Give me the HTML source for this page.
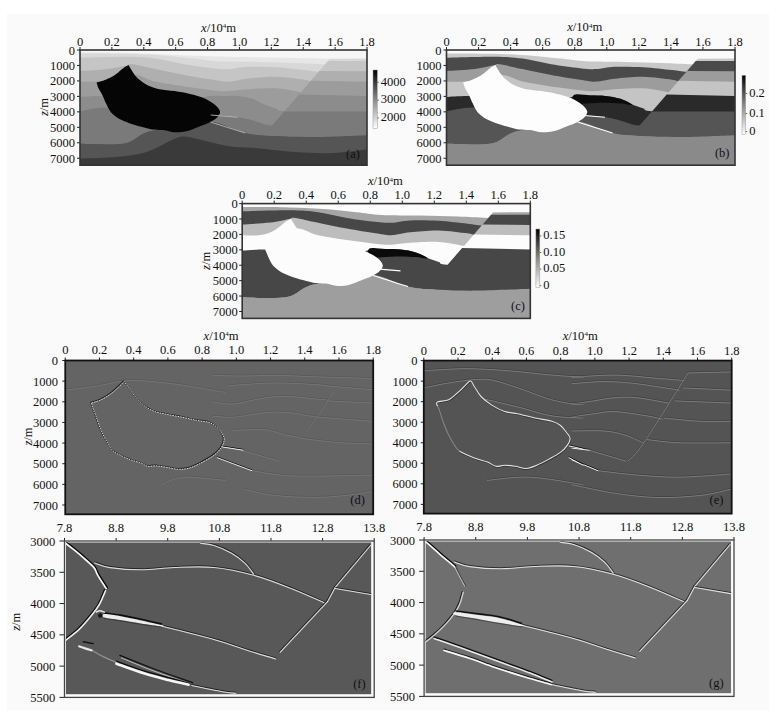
<!DOCTYPE html><html><head><meta charset="utf-8"><style>html,body{margin:0;padding:0;background:#ffffff;overflow:hidden}svg{display:block}</style></head><body><svg xmlns="http://www.w3.org/2000/svg" width="784" height="717" viewBox="0 0 784 717" font-family="Liberation Serif, serif" font-size="12" fill="#111">
<defs>
<linearGradient id="cbg" x1="0" y1="1" x2="0" y2="0"><stop offset="0" stop-color="#fff"/><stop offset="0.5" stop-color="#888"/><stop offset="1" stop-color="#000"/></linearGradient>
</defs>
<rect width="784" height="717" fill="#ffffff"/>
<rect x="7" y="14" width="762" height="696" fill="#fafafa"/>
<clipPath id="clipa"><rect x="80" y="50" width="287" height="115.19999999999999"/></clipPath>
<clipPath id="rca"><polygon points="339.2,48.0 372.0,48.0 372.0,145.0 272.1,145.0 272.1,125.6"/></clipPath>
<g clip-path="url(#clipa)">
<rect x="80" y="50" width="287" height="115.19999999999999" fill="#f6f6f6"/>
<path d="M75.0,52.6 C75.8,52.6 70.8,52.5 79.5,52.6 C88.2,52.7 113.0,52.7 127.3,53.0 C141.5,53.3 154.1,54.0 165.1,54.5 C176.0,55.0 184.0,55.4 192.9,55.8 C201.9,56.1 207.2,56.3 218.8,56.6 C230.4,56.9 244.1,57.2 262.5,57.5 C280.9,57.8 311.6,58.2 329.2,58.5 C346.8,58.8 360.9,58.9 368.0,59.0 C375.1,59.1 371.3,59.0 372.0,59.0 L372.0,170.2 L75.0,170.2 Z" fill="#e6e6e6"/>
<path d="M75.0,53.4 C75.8,53.4 70.8,53.3 79.5,53.4 C88.2,53.5 112.8,53.4 127.1,53.8 C141.3,54.2 154.0,54.9 165.2,55.7 C176.3,56.5 184.8,57.7 193.7,58.6 C202.6,59.5 208.2,60.8 218.8,61.3 C229.3,61.8 244.2,61.6 256.9,61.9 C269.6,62.2 283.5,62.6 294.9,63.0 C306.3,63.4 313.1,64.0 325.3,64.3 C337.5,64.6 360.2,64.9 368.0,65.0 C375.8,65.1 371.3,65.0 372.0,65.0 L372.0,170.2 L75.0,170.2 Z" fill="#d8d8d8"/>
<path d="M75.0,57.7 C75.8,57.7 70.8,57.9 79.5,57.7 C88.2,57.5 114.4,56.6 127.1,56.7 C139.7,56.9 146.1,57.3 155.6,58.6 C165.1,59.9 174.6,62.7 184.2,64.3 C193.7,65.9 205.3,67.4 212.7,68.2 C220.1,69.0 223.0,69.3 228.7,69.1 C234.5,68.9 239.5,67.1 247.3,66.8 C255.2,66.5 266.4,66.7 275.9,67.2 C285.4,67.8 296.8,69.3 304.4,70.1 C312.0,70.9 310.9,71.3 321.5,72.0 C332.1,72.7 359.6,73.7 368.0,74.0 C376.4,74.3 371.3,74.0 372.0,74.0 L372.0,170.2 L75.0,170.2 Z" fill="#c5c5c5"/>
<path d="M75.0,70.9 C75.8,70.9 74.0,71.2 79.5,70.9 C85.0,70.6 100.1,69.8 108.1,68.9 C116.0,68.0 122.9,66.1 127.1,65.3 C131.2,64.5 128.1,63.7 132.8,64.3 C137.6,64.9 147.0,67.3 155.6,69.1 C164.2,70.9 174.6,73.1 184.2,74.9 C193.7,76.7 205.3,78.6 212.7,79.7 C220.1,80.8 223.0,81.8 228.7,81.6 C234.5,81.4 239.5,79.5 247.3,78.7 C255.2,77.9 266.4,76.6 275.9,76.8 C285.4,77.0 297.8,78.9 304.4,79.7 C311.1,80.5 305.3,80.9 315.9,81.6 C326.5,82.3 358.6,83.6 368.0,84.0 C377.4,84.4 371.3,84.0 372.0,84.0 L372.0,170.2 L75.0,170.2 Z" fill="#afafaf"/>
<path d="M75.0,81.6 C75.8,81.6 75.9,81.6 79.5,81.6 C83.1,81.6 89.3,82.2 96.6,81.6 C103.9,81.0 116.6,79.1 123.3,78.0 C129.9,76.9 131.2,74.3 136.6,74.9 C142.0,75.5 147.7,79.7 155.6,81.6 C163.5,83.5 174.6,85.0 184.2,86.4 C193.7,87.8 205.3,89.4 212.7,90.2 C220.1,91.0 223.0,91.3 228.7,91.1 C234.5,90.9 239.5,89.7 247.3,89.2 C255.2,88.7 268.0,88.0 275.9,88.3 C283.8,88.6 289.5,90.3 294.9,91.1 C300.3,91.9 296.0,91.8 308.2,93.0 C320.4,94.2 357.4,97.2 368.0,98.0 C378.6,98.8 371.3,98.0 372.0,98.0 L372.0,170.2 L75.0,170.2 Z" fill="#9c9c9c"/>
<path d="M75.0,96.9 C75.8,96.9 74.9,97.1 79.5,96.9 C84.1,96.7 90.1,95.9 102.4,95.9 C114.7,95.9 137.7,96.6 153.1,97.0 C168.5,97.4 185.6,98.7 194.9,98.5 C204.2,98.3 204.0,96.4 208.9,96.0 C213.9,95.6 219.9,95.9 224.7,95.9 C229.6,95.9 233.1,95.4 237.8,95.9 C242.5,96.4 248.6,97.4 253.0,98.8 C257.4,100.2 260.6,102.9 264.4,104.5 C268.2,106.1 272.1,107.2 275.9,108.4 C279.7,109.6 272.0,110.0 287.3,111.6 C302.7,113.2 353.9,116.9 368.0,118.0 C382.1,119.1 371.3,118.0 372.0,118.0 L372.0,170.2 L75.0,170.2 Z" fill="#8c8c8c"/>
<path d="M75.0,111.2 C75.8,111.2 74.3,111.8 79.5,111.2 C84.7,110.6 93.9,107.6 106.2,107.4 C118.4,107.2 134.3,108.7 153.1,110.0 C171.9,111.3 203.1,113.5 218.8,115.0 C234.5,116.5 238.4,117.1 247.3,118.9 C256.2,120.7 261.3,124.4 272.1,125.6 C282.9,126.8 296.3,125.9 312.3,126.0 C328.3,126.1 358.0,126.0 368.0,126.0 C377.9,126.0 371.3,126.0 372.0,126.0 L372.0,170.2 L75.0,170.2 Z" fill="#7a7a7a"/>
<path d="M75.0,143.7 C75.8,143.7 71.5,143.7 79.5,143.7 C87.5,143.7 112.8,145.3 123.3,143.7 C133.7,142.1 137.2,136.4 142.3,134.2 C147.3,132.0 146.9,131.8 153.7,130.4 C160.5,129.0 173.4,127.5 183.0,126.0 C192.5,124.5 200.4,120.3 210.8,121.5 C221.3,122.7 234.8,130.8 245.6,133.2 C256.5,135.6 264.5,135.5 275.9,136.1 C287.3,136.7 298.6,137.2 314.0,137.0 C329.3,136.8 358.3,135.4 368.0,135.1 C377.7,134.8 371.3,135.1 372.0,135.1 L372.0,170.2 L75.0,170.2 Z" fill="#555555"/>
<path d="M75.0,158.7 C75.8,158.7 72.3,159.0 79.5,158.7 C86.7,158.4 106.9,157.9 118.1,156.8 C129.3,155.7 137.1,155.0 146.7,152.0 C156.2,149.0 168.6,141.2 175.2,138.6 C181.9,136.0 181.8,136.4 186.5,136.7 C191.3,137.0 196.6,138.9 203.8,140.5 C210.9,142.1 220.3,145.0 229.2,146.3 C238.2,147.6 246.3,147.2 257.4,148.2 C268.4,149.1 282.7,151.2 295.4,152.0 C308.1,152.8 321.4,153.5 333.5,153.0 C345.6,152.5 361.6,149.8 368.0,149.1 C374.4,148.4 371.3,149.1 372.0,149.1 L372.0,170.2 L75.0,170.2 Z" fill="#3a3a3a"/>
<polygon points="340.1,47.0 372.0,47.0 372.0,59.4 329.2,59.6" fill="#f6f6f6"/>
<polygon points="329.9,58.8 372.0,58.6 372.0,61.9 327.2,61.9" fill="#d8d8d8"/>
<polygon points="327.9,61.1 372.0,61.1 372.0,72.2 318.7,71.8" fill="#c5c5c5"/>
<polygon points="319.3,71.0 372.0,71.4 372.0,82.5 310.2,81.6" fill="#afafaf"/>
<polygon points="310.9,80.8 372.0,81.7 372.0,96.8 298.4,95.2" fill="#9c9c9c"/>
<polygon points="299.1,94.4 372.0,96.0 372.0,112.4 283.5,112.4" fill="#8c8c8c"/>
<polygon points="284.2,111.6 372.0,111.6 372.0,145.0 272.1,145.0 272.1,125.6" fill="#7a7a7a"/>
<path d="M75.0,143.7 C75.8,143.7 71.5,143.7 79.5,143.7 C87.5,143.7 112.8,145.3 123.3,143.7 C133.7,142.1 137.2,136.4 142.3,134.2 C147.3,132.0 146.9,131.8 153.7,130.4 C160.5,129.0 173.4,127.5 183.0,126.0 C192.5,124.5 200.4,120.3 210.8,121.5 C221.3,122.7 234.8,130.8 245.6,133.2 C256.5,135.6 264.5,135.5 275.9,136.1 C287.3,136.7 298.6,137.2 314.0,137.0 C329.3,136.8 358.3,135.4 368.0,135.1 C377.7,134.8 371.3,135.1 372.0,135.1 L372.0,170.2 L75.0,170.2 Z" fill="#555555"/>
<path d="M75.0,158.7 C75.8,158.7 72.3,159.0 79.5,158.7 C86.7,158.4 106.9,157.9 118.1,156.8 C129.3,155.7 137.1,155.0 146.7,152.0 C156.2,149.0 168.6,141.2 175.2,138.6 C181.9,136.0 181.8,136.4 186.5,136.7 C191.3,137.0 196.6,138.9 203.8,140.5 C210.9,142.1 220.3,145.0 229.2,146.3 C238.2,147.6 246.3,147.2 257.4,148.2 C268.4,149.1 282.7,151.2 295.4,152.0 C308.1,152.8 321.4,153.5 333.5,153.0 C345.6,152.5 361.6,149.8 368.0,149.1 C374.4,148.4 371.3,149.1 372.0,149.1 L372.0,170.2 L75.0,170.2 Z" fill="#3a3a3a"/>
<path d="M96.6,82.5 C96.6,82.5 101.7,81.2 104.2,80.2 C106.8,79.3 109.6,78.0 111.9,76.8 C114.1,75.6 115.7,74.4 117.6,73.0 C119.5,71.5 121.4,69.5 123.3,68.2 C125.1,66.9 128.6,65.1 128.6,65.1 C128.6,65.1 129.9,67.5 130.9,69.1 C131.9,70.8 133.1,73.0 134.7,74.9 C136.3,76.8 138.2,78.9 140.4,80.6 C142.6,82.4 144.8,84.0 148.0,85.4 C151.2,86.8 155.0,88.3 159.4,89.2 C163.9,90.2 169.6,90.3 174.7,91.1 C179.7,91.9 185.1,92.9 189.9,94.0 C194.7,95.1 199.1,96.1 203.2,97.8 C207.3,99.6 211.8,102.3 214.6,104.5 C217.4,106.8 219.5,109.2 220.0,111.2 C220.4,113.3 219.0,115.2 217.5,117.0 C216.0,118.7 213.8,120.2 210.8,121.7 C207.8,123.3 203.5,124.9 199.4,126.5 C195.3,128.1 190.2,130.4 186.1,131.3 C182.0,132.3 178.5,132.5 174.7,132.3 C170.9,132.0 167.1,130.5 163.2,130.0 C159.4,129.5 155.6,130.0 151.8,129.4 C148.0,128.8 143.9,127.5 140.4,126.5 C136.9,125.6 134.4,124.9 130.9,123.7 C127.4,122.4 122.8,120.8 119.5,118.9 C116.1,117.0 113.1,114.7 110.9,112.2 C108.7,109.6 107.6,106.4 106.1,103.6 C104.7,100.7 103.6,97.5 102.3,95.0 C101.1,92.4 99.5,90.3 98.5,88.3 C97.6,86.2 96.6,82.5 96.6,82.5 Z" fill="#050505"/>
<path d="M210.8,115.0 L237.7,117.3" fill="none" stroke="#b8b8b8" stroke-width="0.9"/>
<path d="M210.5,122.0 C213.4,122.9 222.0,125.7 227.7,127.5 C233.5,129.3 242.2,132.1 245.1,133.0" fill="none" stroke="#b8b8b8" stroke-width="0.9"/>
</g>
<clipPath id="clipb"><rect x="446.5" y="50" width="288.5" height="115.19999999999999"/></clipPath>
<clipPath id="rcb"><polygon points="707.1,48.0 740.0,48.0 740.0,145.0 639.6,145.0 639.6,125.6"/></clipPath>
<g clip-path="url(#clipb)">
<rect x="446.5" y="50" width="288.5" height="115.19999999999999" fill="#fafafa"/>
<path d="M441.5,53.4 C442.2,53.4 437.3,53.3 446.0,53.4 C454.7,53.5 479.4,53.4 493.8,53.8 C508.2,54.2 520.9,54.9 532.1,55.7 C543.3,56.5 551.8,57.7 560.8,58.6 C569.8,59.5 575.4,60.8 586.0,61.3 C596.6,61.8 611.5,61.6 624.3,61.9 C637.0,62.2 651.0,62.6 662.5,63.0 C674.0,63.4 680.9,64.0 693.1,64.3 C705.4,64.6 728.2,64.9 736.0,65.0 C743.8,65.1 739.3,65.0 740.0,65.0 L740.0,170.2 L441.5,170.2 Z" fill="#c8c8c8"/>
<path d="M441.5,57.7 C442.2,57.7 437.3,57.9 446.0,57.7 C454.7,57.5 481.1,56.6 493.8,56.7 C506.6,56.9 512.9,57.3 522.5,58.6 C532.1,59.9 541.6,62.7 551.2,64.3 C560.8,65.9 572.4,67.4 579.9,68.2 C587.4,69.0 590.2,69.3 596.0,69.1 C601.8,68.9 606.8,67.1 614.7,66.8 C622.6,66.5 633.8,66.7 643.4,67.2 C653.0,67.8 664.5,69.3 672.1,70.1 C679.8,70.9 678.6,71.3 689.3,72.0 C699.9,72.7 727.5,73.7 736.0,74.0 C744.5,74.3 739.3,74.0 740.0,74.0 L740.0,170.2 L441.5,170.2 Z" fill="#4a4a4a"/>
<path d="M441.5,70.9 C442.2,70.9 440.5,71.2 446.0,70.9 C451.5,70.6 466.7,69.8 474.7,68.9 C482.7,68.0 489.6,66.1 493.8,65.3 C498.0,64.5 494.8,63.7 499.6,64.3 C504.4,64.9 513.9,67.3 522.5,69.1 C531.1,70.9 541.6,73.1 551.2,74.9 C560.8,76.7 572.4,78.6 579.9,79.7 C587.4,80.8 590.2,81.8 596.0,81.6 C601.8,81.4 606.8,79.5 614.7,78.7 C622.6,77.9 633.8,76.6 643.4,76.8 C653.0,77.0 665.4,78.9 672.1,79.7 C678.8,80.5 673.0,80.9 683.6,81.6 C694.2,82.3 726.6,83.6 736.0,84.0 C745.4,84.4 739.3,84.0 740.0,84.0 L740.0,170.2 L441.5,170.2 Z" fill="#9c9c9c"/>
<path d="M441.5,81.6 C442.2,81.6 442.4,81.6 446.0,81.6 C449.6,81.6 455.9,82.2 463.2,81.6 C470.5,81.0 483.3,79.1 490.0,78.0 C496.7,76.9 498.0,74.3 503.4,74.9 C508.8,75.5 514.5,79.7 522.5,81.6 C530.5,83.5 541.6,85.0 551.2,86.4 C560.8,87.8 572.4,89.4 579.9,90.2 C587.4,91.0 590.2,91.3 596.0,91.1 C601.8,90.9 606.8,89.7 614.7,89.2 C622.6,88.7 635.4,88.0 643.4,88.3 C651.4,88.6 657.1,90.3 662.5,91.1 C667.9,91.9 663.6,91.8 675.9,93.0 C688.1,94.2 725.3,97.2 736.0,98.0 C746.7,98.8 739.3,98.0 740.0,98.0 L740.0,170.2 L441.5,170.2 Z" fill="#c4c4c4"/>
<path d="M441.5,96.9 C442.2,96.9 441.4,97.1 446.0,96.9 C450.6,96.7 456.7,95.9 469.0,95.9 C481.3,95.9 504.5,96.6 520.0,97.0 C535.5,97.4 552.6,98.7 562.0,98.5 C571.4,98.3 571.1,96.4 576.1,96.0 C581.1,95.6 587.2,95.9 592.0,95.9 C596.8,95.9 600.4,95.4 605.1,95.9 C609.8,96.4 615.9,97.4 620.4,98.8 C624.9,100.2 628.1,102.9 631.9,104.5 C635.7,106.1 639.6,107.2 643.4,108.4 C647.2,109.6 639.5,110.0 654.9,111.6 C670.3,113.2 721.8,116.9 736.0,118.0 C750.2,119.1 739.3,118.0 740.0,118.0 L740.0,170.2 L441.5,170.2 Z" fill="#2a2a2a"/>
<path d="M441.5,111.2 C442.2,111.2 440.8,111.8 446.0,111.2 C451.2,110.6 460.5,107.6 472.8,107.4 C485.1,107.2 501.1,108.7 520.0,110.0 C538.9,111.3 570.2,113.5 586.0,115.0 C601.8,116.5 605.8,117.1 614.7,118.9 C623.6,120.7 628.7,124.4 639.6,125.6 C650.5,126.8 663.9,125.9 680.0,126.0 C696.1,126.1 726.0,126.0 736.0,126.0 C746.0,126.0 739.3,126.0 740.0,126.0 L740.0,170.2 L441.5,170.2 Z" fill="#555555"/>
<path d="M441.5,143.7 C442.2,143.7 437.9,143.7 446.0,143.7 C454.1,143.7 479.5,145.3 490.0,143.7 C500.5,142.1 504.0,136.4 509.1,134.2 C514.2,132.0 513.8,131.8 520.6,130.4 C527.4,129.0 540.4,127.5 550.0,126.0 C559.6,124.5 567.5,120.3 578.0,121.5 C588.5,122.7 602.1,130.8 613.0,133.2 C623.9,135.6 631.9,135.5 643.4,136.1 C654.9,136.7 666.3,137.2 681.7,137.0 C697.1,136.8 726.3,135.4 736.0,135.1 C745.7,134.8 739.3,135.1 740.0,135.1 L740.0,170.2 L441.5,170.2 Z" fill="#8a8a8a"/>
<path d="M574.0,95.0 C576.7,93.5 584.8,95.1 590.0,95.3 C595.2,95.5 600.0,95.3 605.1,95.9 C610.2,96.5 615.8,97.3 620.4,98.8 C625.0,100.3 632.6,104.0 632.5,104.8 C632.4,105.6 624.6,103.7 620.0,103.4 C615.4,103.1 610.7,102.8 605.0,102.8 C599.3,102.8 591.2,103.4 586.0,103.6 C580.8,103.8 576.0,105.4 574.0,104.0 C572.0,102.6 571.3,96.5 574.0,95.0 Z" fill="#0c0c0c"/>
<polygon points="708.0,47.0 740.0,47.0 740.0,59.4 697.0,59.6" fill="#fafafa"/>
<polygon points="697.7,58.8 740.0,58.6 740.0,61.9 695.0,61.9" fill="#c8c8c8"/>
<polygon points="695.7,61.1 740.0,61.1 740.0,72.2 686.4,71.8" fill="#4a4a4a"/>
<polygon points="687.1,71.0 740.0,71.4 740.0,82.5 677.9,81.6" fill="#9c9c9c"/>
<polygon points="678.6,80.8 740.0,81.7 740.0,96.8 666.1,95.2" fill="#c4c4c4"/>
<polygon points="666.7,94.4 740.0,96.0 740.0,112.4 651.1,112.4" fill="#2a2a2a"/>
<polygon points="651.8,111.6 740.0,111.6 740.0,145.0 639.6,145.0 639.6,125.6" fill="#555555"/>
<path d="M441.5,143.7 C442.2,143.7 437.9,143.7 446.0,143.7 C454.1,143.7 479.5,145.3 490.0,143.7 C500.5,142.1 504.0,136.4 509.1,134.2 C514.2,132.0 513.8,131.8 520.6,130.4 C527.4,129.0 540.4,127.5 550.0,126.0 C559.6,124.5 567.5,120.3 578.0,121.5 C588.5,122.7 602.1,130.8 613.0,133.2 C623.9,135.6 631.9,135.5 643.4,136.1 C654.9,136.7 666.3,137.2 681.7,137.0 C697.1,136.8 726.3,135.4 736.0,135.1 C745.7,134.8 739.3,135.1 740.0,135.1 L740.0,170.2 L441.5,170.2 Z" fill="#8a8a8a"/>
<path d="M463.2,82.5 C463.2,82.5 468.3,81.2 470.9,80.2 C473.4,79.3 476.3,78.0 478.5,76.8 C480.8,75.6 482.4,74.4 484.3,73.0 C486.2,71.5 488.2,69.5 490.0,68.2 C491.9,66.9 495.4,65.1 495.4,65.1 C495.4,65.1 496.6,67.5 497.7,69.1 C498.7,70.8 499.9,73.0 501.5,74.9 C503.1,76.8 505.0,78.9 507.2,80.6 C509.5,82.4 511.7,84.0 514.9,85.4 C518.1,86.8 521.9,88.3 526.4,89.2 C530.8,90.2 536.6,90.3 541.7,91.1 C546.8,91.9 552.2,92.9 557.0,94.0 C561.8,95.1 566.2,96.1 570.4,97.8 C574.5,99.6 579.0,102.3 581.8,104.5 C584.6,106.8 586.7,109.2 587.2,111.2 C587.7,113.3 586.2,115.2 584.7,117.0 C583.2,118.7 581.0,120.2 578.0,121.7 C575.0,123.3 570.7,124.9 566.5,126.5 C562.4,128.1 557.3,130.4 553.1,131.3 C549.0,132.3 545.5,132.5 541.7,132.3 C537.8,132.0 534.0,130.5 530.2,130.0 C526.4,129.5 522.5,130.0 518.7,129.4 C514.9,128.8 510.7,127.5 507.2,126.5 C503.7,125.6 501.2,124.9 497.7,123.7 C494.2,122.4 489.5,120.8 486.2,118.9 C482.8,117.0 479.8,114.7 477.6,112.2 C475.3,109.6 474.2,106.4 472.8,103.6 C471.4,100.7 470.2,97.5 469.0,95.0 C467.7,92.4 466.1,90.3 465.1,88.3 C464.2,86.2 463.2,82.5 463.2,82.5 Z" fill="#fdfdfd"/>
<path d="M578.0,115.0 L605.0,117.3" fill="none" stroke="#ffffff" stroke-width="1.1"/>
<path d="M577.7,122.0 C580.6,122.9 589.2,125.7 595.0,127.5 C600.8,129.3 609.6,132.1 612.5,133.0" fill="none" stroke="#ffffff" stroke-width="1.1"/>
</g>
<clipPath id="clipc"><rect x="242.2" y="203.6" width="288.09999999999997" height="114.79999999999998"/></clipPath>
<clipPath id="rcc"><polygon points="502.4,201.6 535.3,201.6 535.3,298.6 435.0,298.6 435.0,279.2"/></clipPath>
<g clip-path="url(#clipc)">
<rect x="242.2" y="203.6" width="288.09999999999997" height="114.79999999999998" fill="#fcfcfc"/>
<path d="M237.2,207.0 C238.0,207.0 233.0,206.9 241.7,207.0 C250.4,207.1 275.1,207.0 289.4,207.4 C303.8,207.8 316.5,208.5 327.7,209.3 C338.8,210.1 347.4,211.3 356.3,212.2 C365.3,213.1 370.9,214.3 381.5,214.9 C392.1,215.4 407.0,215.2 419.8,215.5 C432.5,215.8 446.4,216.2 457.9,216.6 C469.4,217.0 476.2,217.6 488.5,217.9 C500.7,218.2 523.5,218.5 531.3,218.6 C539.1,218.7 534.6,218.6 535.3,218.6 L535.3,323.4 L237.2,323.4 Z" fill="#a5a5a5"/>
<path d="M237.2,211.3 C238.0,211.3 233.0,211.5 241.7,211.3 C250.4,211.1 276.7,210.2 289.4,210.3 C302.2,210.5 308.5,210.9 318.1,212.2 C327.6,213.5 337.2,216.3 346.8,217.9 C356.3,219.5 368.0,221.0 375.4,221.8 C382.9,222.6 385.7,222.9 391.5,222.7 C397.3,222.5 402.3,220.7 410.2,220.4 C418.1,220.1 429.3,220.2 438.8,220.8 C448.4,221.4 459.8,222.9 467.5,223.7 C475.1,224.5 474.0,224.9 484.7,225.6 C495.3,226.2 522.9,227.3 531.3,227.6 C539.7,227.9 534.6,227.6 535.3,227.6 L535.3,323.4 L237.2,323.4 Z" fill="#474747"/>
<path d="M237.2,224.5 C238.0,224.5 236.2,224.8 241.7,224.5 C247.2,224.2 262.4,223.4 270.4,222.5 C278.3,221.6 285.3,219.7 289.4,218.9 C293.6,218.1 290.4,217.3 295.2,217.9 C300.0,218.5 309.5,220.9 318.1,222.7 C326.7,224.5 337.2,226.7 346.8,228.5 C356.3,230.3 368.0,232.2 375.4,233.3 C382.9,234.4 385.7,235.4 391.5,235.2 C397.3,235.0 402.3,233.1 410.2,232.3 C418.1,231.5 429.3,230.2 438.8,230.4 C448.4,230.6 460.8,232.5 467.5,233.3 C474.2,234.1 468.3,234.5 479.0,235.2 C489.6,235.9 521.9,237.2 531.3,237.6 C540.7,238.0 534.6,237.6 535.3,237.6 L535.3,323.4 L237.2,323.4 Z" fill="#bdbdbd"/>
<path d="M237.2,235.2 C238.0,235.2 238.1,235.2 241.7,235.2 C245.3,235.2 251.6,235.8 258.9,235.2 C266.2,234.6 278.9,232.7 285.6,231.6 C292.3,230.5 293.6,227.9 299.0,228.5 C304.4,229.1 310.1,233.3 318.1,235.2 C326.1,237.1 337.2,238.6 346.8,240.0 C356.3,241.4 368.0,243.0 375.4,243.8 C382.9,244.6 385.7,244.9 391.5,244.7 C397.3,244.5 402.3,243.3 410.2,242.8 C418.1,242.3 430.9,241.6 438.8,241.9 C446.8,242.2 452.5,243.9 457.9,244.7 C463.3,245.5 459.0,245.4 471.3,246.6 C483.5,247.8 520.6,250.8 531.3,251.6 C542.0,252.4 534.6,251.6 535.3,251.6 L535.3,323.4 L237.2,323.4 Z" fill="#fcfcfc"/>
<path d="M237.2,250.5 C238.0,250.5 237.1,250.7 241.7,250.5 C246.3,250.3 252.4,249.5 264.7,249.5 C277.0,249.5 300.1,250.2 315.6,250.6 C331.1,251.0 348.2,252.3 357.5,252.1 C366.9,251.9 366.6,250.0 371.6,249.6 C376.6,249.2 382.7,249.5 387.5,249.5 C392.3,249.5 395.9,249.0 400.6,249.5 C405.3,250.0 411.4,251.0 415.9,252.4 C420.3,253.8 423.5,256.5 427.3,258.1 C431.2,259.7 435.0,260.8 438.8,262.0 C442.7,263.2 434.9,263.6 450.3,265.2 C465.7,266.8 517.1,270.5 531.3,271.6 C545.5,272.7 534.6,271.6 535.3,271.6 L535.3,323.4 L237.2,323.4 Z" fill="#474747"/>
<path d="M237.2,264.8 C238.0,264.8 236.5,265.4 241.7,264.8 C246.9,264.2 256.1,261.2 268.5,261.0 C280.8,260.8 296.8,262.3 315.6,263.6 C334.4,264.9 365.7,267.1 381.5,268.6 C397.3,270.1 401.2,270.7 410.2,272.5 C419.1,274.3 424.2,278.0 435.0,279.2 C445.9,280.4 459.3,279.5 475.4,279.6 C491.4,279.7 521.3,279.6 531.3,279.6 C541.3,279.6 534.6,279.6 535.3,279.6 L535.3,323.4 L237.2,323.4 Z" fill="#474747"/>
<path d="M237.2,297.3 C238.0,297.3 233.6,297.3 241.7,297.3 C249.8,297.3 275.1,298.9 285.6,297.3 C296.1,295.7 299.6,290.0 304.7,287.8 C309.8,285.6 309.4,285.4 316.2,284.0 C323.0,282.6 336.0,281.1 345.6,279.6 C355.1,278.1 363.0,273.9 373.5,275.1 C384.0,276.3 397.6,284.4 408.5,286.8 C419.4,289.2 427.4,289.1 438.8,289.7 C450.3,290.3 461.7,290.8 477.1,290.6 C492.5,290.4 521.6,289.0 531.3,288.7 C541.0,288.4 534.6,288.7 535.3,288.7 L535.3,323.4 L237.2,323.4 Z" fill="#9e9e9e"/>
<path d="M369.5,248.6 C372.2,247.1 380.3,248.7 385.5,248.9 C390.7,249.0 395.5,248.9 400.6,249.5 C405.6,250.1 411.3,250.9 415.9,252.4 C420.4,253.9 428.0,257.6 427.9,258.4 C427.9,259.2 420.0,257.3 415.5,257.0 C410.9,256.7 406.1,256.4 400.5,256.4 C394.8,256.4 386.7,257.0 381.5,257.2 C376.3,257.4 371.5,259.0 369.5,257.6 C367.5,256.2 366.9,250.1 369.5,248.6 Z" fill="#0a0a0a"/>
<polygon points="503.3,200.6 535.3,200.6 535.3,213.0 492.3,213.2" fill="#fcfcfc"/>
<polygon points="493.0,212.4 535.3,212.2 535.3,215.5 490.4,215.5" fill="#a5a5a5"/>
<polygon points="491.0,214.7 535.3,214.7 535.3,225.8 481.8,225.4" fill="#474747"/>
<polygon points="482.5,224.6 535.3,225.0 535.3,236.1 473.3,235.2" fill="#bdbdbd"/>
<polygon points="474.0,234.4 535.3,235.3 535.3,250.4 461.5,248.8" fill="#fcfcfc"/>
<polygon points="462.1,248.0 535.3,249.6 535.3,266.0 446.5,266.0" fill="#474747"/>
<polygon points="447.2,265.2 535.3,265.2 535.3,298.6 435.0,298.6 435.0,279.2" fill="#474747"/>
<path d="M237.2,297.3 C238.0,297.3 233.6,297.3 241.7,297.3 C249.8,297.3 275.1,298.9 285.6,297.3 C296.1,295.7 299.6,290.0 304.7,287.8 C309.8,285.6 309.4,285.4 316.2,284.0 C323.0,282.6 336.0,281.1 345.6,279.6 C355.1,278.1 363.0,273.9 373.5,275.1 C384.0,276.3 397.6,284.4 408.5,286.8 C419.4,289.2 427.4,289.1 438.8,289.7 C450.3,290.3 461.7,290.8 477.1,290.6 C492.5,290.4 521.6,289.0 531.3,288.7 C541.0,288.4 534.6,288.7 535.3,288.7 L535.3,323.4 L237.2,323.4 Z" fill="#9e9e9e"/>
<line x1="446.4" y1="266.1" x2="435.0" y2="279.2" stroke="#474747" stroke-width="1.5"/>
<path d="M258.9,236.1 C258.9,236.1 264.0,234.8 266.5,233.8 C269.1,232.9 272.0,231.6 274.2,230.4 C276.4,229.2 278.0,228.0 279.9,226.6 C281.8,225.1 283.8,223.1 285.6,221.8 C287.5,220.5 291.0,218.7 291.0,218.7 C291.0,218.7 292.3,221.1 293.3,222.7 C294.3,224.4 295.5,226.6 297.1,228.5 C298.7,230.4 300.6,232.5 302.8,234.2 C305.1,236.0 307.3,237.6 310.5,239.0 C313.7,240.4 317.5,241.9 321.9,242.8 C326.4,243.8 332.1,243.9 337.2,244.7 C342.3,245.5 347.7,246.5 352.5,247.6 C357.3,248.7 361.8,249.7 365.9,251.4 C370.0,253.2 374.6,255.9 377.4,258.1 C380.2,260.4 382.2,262.8 382.7,264.8 C383.2,266.9 381.7,268.8 380.2,270.6 C378.7,272.3 376.6,273.8 373.5,275.3 C370.5,276.9 366.2,278.5 362.1,280.1 C357.9,281.7 352.8,284.0 348.7,284.9 C344.6,285.9 341.1,286.1 337.2,285.9 C333.4,285.6 329.6,284.1 325.8,283.6 C321.9,283.1 318.1,283.6 314.3,283.0 C310.5,282.4 306.3,281.1 302.8,280.1 C299.3,279.2 296.8,278.5 293.3,277.3 C289.8,276.0 285.2,274.4 281.8,272.5 C278.5,270.6 275.5,268.3 273.2,265.8 C271.0,263.2 269.9,260.0 268.4,257.2 C267.0,254.3 265.9,251.1 264.6,248.6 C263.4,246.0 261.8,243.9 260.8,241.9 C259.9,239.8 258.9,236.1 258.9,236.1 Z" fill="#fcfcfc"/>
<path d="M373.5,268.6 L400.5,270.9" fill="none" stroke="#ffffff" stroke-width="1.1"/>
<path d="M373.2,275.6 C376.1,276.5 384.7,279.3 390.5,281.1 C396.3,282.9 405.1,285.7 408.0,286.6" fill="none" stroke="#ffffff" stroke-width="1.1"/>
</g>
<clipPath id="clipd"><rect x="65.25" y="360.5" width="307.95" height="153.79999999999995"/></clipPath>
<g clip-path="url(#clipd)">
<rect x="65.25" y="360.5" width="307.95" height="153.79999999999995" fill="#646464"/>
<path d="M213.0,374.6 C218.1,374.7 232.7,375.2 243.6,375.2 C254.5,375.2 266.4,374.5 278.3,374.6 C290.2,374.7 299.3,375.5 315.0,376.0 C330.8,376.5 363.3,377.4 373.0,377.7" fill="none" stroke="#000" stroke-width="0.8" stroke-opacity="0.16" stroke-linecap="round"/><path d="M213.0,375.3 C218.1,375.4 232.7,375.9 243.6,375.9 C254.5,375.9 266.4,375.2 278.3,375.3 C290.2,375.4 299.3,376.2 315.0,376.7 C330.8,377.2 363.3,378.1 373.0,378.4" fill="none" stroke="#fff" stroke-width="0.8" stroke-opacity="0.16" stroke-linecap="round"/>
<path d="M229.3,384.8 C236.8,384.4 259.9,382.3 274.2,382.2 C288.5,382.0 304.8,383.2 315.0,383.8 C325.2,384.4 325.8,385.0 335.4,385.8 C345.1,386.7 366.7,388.4 373.0,388.9" fill="none" stroke="#000" stroke-width="0.8" stroke-opacity="0.16" stroke-linecap="round"/><path d="M229.3,385.5 C236.8,385.1 259.9,383.0 274.2,382.9 C288.5,382.7 304.8,383.9 315.0,384.5 C325.2,385.1 325.8,385.7 335.4,386.5 C345.1,387.4 366.7,389.1 373.0,389.6" fill="none" stroke="#fff" stroke-width="0.8" stroke-opacity="0.16" stroke-linecap="round"/>
<path d="M213.0,401.1 C216.4,401.5 226.6,403.5 233.4,403.2 C240.2,402.8 247.0,400.3 253.8,399.1 C260.6,397.9 267.4,396.5 274.2,396.0 C281.0,395.5 287.8,395.7 294.6,396.0 C301.4,396.4 309.6,397.6 315.0,398.1 C320.5,398.6 325.2,398.9 327.3,399.1" fill="none" stroke="#000" stroke-width="0.8" stroke-opacity="0.16" stroke-linecap="round"/><path d="M213.0,401.8 C216.4,402.2 226.6,404.2 233.4,403.9 C240.2,403.5 247.0,401.0 253.8,399.8 C260.6,398.6 267.4,397.2 274.2,396.7 C281.0,396.2 287.8,396.4 294.6,396.7 C301.4,397.1 309.6,398.3 315.0,398.8 C320.5,399.3 325.2,399.6 327.3,399.8" fill="none" stroke="#fff" stroke-width="0.8" stroke-opacity="0.16" stroke-linecap="round"/>
<path d="M327.3,400.1 L373.0,402.2" fill="none" stroke="#000" stroke-width="0.8" stroke-opacity="0.16" stroke-linecap="round"/><path d="M327.3,400.8 L373.0,402.9" fill="none" stroke="#fff" stroke-width="0.8" stroke-opacity="0.16" stroke-linecap="round"/>
<path d="M213.0,415.4 C216.4,415.6 226.6,416.8 233.4,416.4 C240.2,416.1 247.0,414.2 253.8,413.4 C260.6,412.5 267.4,411.5 274.2,411.3 C281.0,411.2 289.5,411.9 294.6,412.4 C299.7,412.9 300.8,413.7 304.8,414.4 C308.9,415.1 316.7,416.1 319.1,416.4" fill="none" stroke="#000" stroke-width="0.8" stroke-opacity="0.16" stroke-linecap="round"/><path d="M213.0,416.1 C216.4,416.3 226.6,417.5 233.4,417.1 C240.2,416.8 247.0,414.9 253.8,414.1 C260.6,413.2 267.4,412.2 274.2,412.0 C281.0,411.9 289.5,412.6 294.6,413.1 C299.7,413.6 300.8,414.4 304.8,415.1 C308.9,415.8 316.7,416.8 319.1,417.1" fill="none" stroke="#fff" stroke-width="0.8" stroke-opacity="0.16" stroke-linecap="round"/>
<path d="M319.1,416.4 L373.0,420.5" fill="none" stroke="#000" stroke-width="0.8" stroke-opacity="0.16" stroke-linecap="round"/><path d="M319.1,417.1 L373.0,421.2" fill="none" stroke="#fff" stroke-width="0.8" stroke-opacity="0.16" stroke-linecap="round"/>
<path d="M333.4,390.9 C330.7,395.2 321.5,410.0 317.1,416.4 C312.7,422.9 308.6,427.5 306.9,429.7" fill="none" stroke="#000" stroke-width="0.8" stroke-opacity="0.16" stroke-linecap="round"/><path d="M333.4,391.6 C330.7,395.9 321.5,410.7 317.1,417.1 C312.7,423.6 308.6,428.2 306.9,430.4" fill="none" stroke="#fff" stroke-width="0.8" stroke-opacity="0.16" stroke-linecap="round"/>
<path d="M233.4,429.7 C238.5,429.5 255.5,428.0 264.0,428.7 C272.5,429.4 278.3,432.4 284.4,433.8 C290.6,435.2 298.0,436.3 300.8,436.9" fill="none" stroke="#000" stroke-width="0.8" stroke-opacity="0.16" stroke-linecap="round"/><path d="M233.4,430.4 C238.5,430.2 255.5,428.7 264.0,429.4 C272.5,430.1 278.3,433.1 284.4,434.5 C290.6,435.9 298.0,437.0 300.8,437.6" fill="none" stroke="#fff" stroke-width="0.8" stroke-opacity="0.16" stroke-linecap="round"/>
<path d="M241.6,449.7 L278.3,459.9" fill="none" stroke="#000" stroke-width="0.8" stroke-opacity="0.16" stroke-linecap="round"/><path d="M241.6,450.4 L278.3,460.6" fill="none" stroke="#fff" stroke-width="0.8" stroke-opacity="0.16" stroke-linecap="round"/>
<path d="M252.8,470.1 C259.8,471.0 274.6,474.5 294.6,475.2 C314.7,475.9 359.9,474.4 373.0,474.2" fill="none" stroke="#000" stroke-width="0.8" stroke-opacity="0.16" stroke-linecap="round"/><path d="M252.8,470.8 C259.8,471.7 274.6,475.2 294.6,475.9 C314.7,476.6 359.9,475.1 373.0,474.9" fill="none" stroke="#fff" stroke-width="0.8" stroke-opacity="0.16" stroke-linecap="round"/>
<path d="M300.8,437.5 C306.5,438.1 323.4,440.6 335.4,441.5 C347.5,442.5 366.7,442.9 373.0,443.2" fill="none" stroke="#000" stroke-width="0.8" stroke-opacity="0.16" stroke-linecap="round"/><path d="M300.8,438.2 C306.5,438.8 323.4,441.3 335.4,442.2 C347.5,443.2 366.7,443.6 373.0,443.9" fill="none" stroke="#fff" stroke-width="0.8" stroke-opacity="0.16" stroke-linecap="round"/>
<path d="M243.6,488.5 C248.7,489.5 262.3,493.2 274.2,494.6 C286.1,496.0 303.1,496.6 315.0,496.6 C326.9,496.6 336.0,495.6 345.7,494.6 C355.3,493.6 368.4,491.2 373.0,490.5" fill="none" stroke="#000" stroke-width="0.8" stroke-opacity="0.16" stroke-linecap="round"/><path d="M243.6,489.2 C248.7,490.2 262.3,493.9 274.2,495.3 C286.1,496.7 303.1,497.3 315.0,497.3 C326.9,497.3 336.0,496.3 345.7,495.3 C355.3,494.3 368.4,491.9 373.0,491.2" fill="none" stroke="#fff" stroke-width="0.8" stroke-opacity="0.16" stroke-linecap="round"/>
<path d="M65.0,389.4 C70.4,388.7 86.5,386.7 97.2,385.1 C108.0,383.5 116.9,380.1 129.4,379.7 C142.0,379.3 156.5,381.0 172.4,382.9 C188.3,384.9 216.2,390.1 225.0,391.5" fill="none" stroke="#000" stroke-width="0.8" stroke-opacity="0.16" stroke-linecap="round"/><path d="M65.0,390.1 C70.4,389.4 86.5,387.4 97.2,385.8 C108.0,384.2 116.9,380.8 129.4,380.4 C142.0,380.0 156.5,381.7 172.4,383.6 C188.3,385.6 216.2,390.8 225.0,392.2" fill="none" stroke="#fff" stroke-width="0.8" stroke-opacity="0.16" stroke-linecap="round"/>
<path d="M161.6,483.9 C165.2,482.6 172.6,477.1 183.1,476.4 C193.7,475.6 218.0,479.0 225.0,479.6" fill="none" stroke="#000" stroke-width="0.8" stroke-opacity="0.16" stroke-linecap="round"/><path d="M161.6,484.6 C165.2,483.3 172.6,477.8 183.1,477.1 C193.7,476.3 218.0,479.7 225.0,480.3" fill="none" stroke="#fff" stroke-width="0.8" stroke-opacity="0.16" stroke-linecap="round"/>
<path d="M222.7,446.2 L243.1,449.4" fill="none" stroke="#000" stroke-width="1.0" stroke-opacity="0.9" stroke-linecap="round"/><path d="M222.7,447.0 L243.1,450.2" fill="none" stroke="#fff" stroke-width="1.0" stroke-opacity="0.9" stroke-linecap="round"/>
<path d="M217.3,456.9 C220.2,458.0 228.8,461.2 234.5,463.4 C240.2,465.5 248.8,468.7 251.7,469.8" fill="none" stroke="#000" stroke-width="1.0" stroke-opacity="0.9" stroke-linecap="round"/><path d="M217.3,457.7 C220.2,458.8 228.8,462.0 234.5,464.2 C240.2,466.3 248.8,469.5 251.7,470.6" fill="none" stroke="#fff" stroke-width="1.0" stroke-opacity="0.9" stroke-linecap="round"/>
<path d="M91.2,402.7 C91.2,402.7 97.2,401.1 100.4,399.6 C103.6,398.1 107.6,395.7 110.6,393.5 C113.7,391.3 116.6,388.4 118.8,386.3 C121.0,384.3 123.9,381.2 123.9,381.2 C123.9,381.2 127.1,385.8 129.0,388.4 C130.9,390.9 132.7,393.8 135.1,396.5 C137.5,399.3 140.2,402.3 143.3,404.7 C146.3,407.1 149.7,409.3 153.5,410.8 C157.2,412.3 161.0,412.9 165.7,413.9 C170.5,414.9 176.9,415.9 182.0,416.9 C187.1,418.0 191.9,419.1 196.3,420.0 C200.7,420.9 205.2,420.9 208.6,422.0 C212.0,423.2 214.5,425.3 216.7,427.1 C218.9,429.0 220.6,431.2 221.8,433.3 C223.0,435.3 224.0,437.0 223.9,439.4 C223.7,441.8 222.7,444.8 220.8,447.6 C218.9,450.3 216.4,453.0 212.7,455.7 C208.9,458.4 202.4,461.8 198.4,463.9 C194.3,465.9 191.6,467.1 188.2,468.0 C184.8,468.8 181.7,469.1 178.0,469.0 C174.2,468.8 169.5,467.5 165.7,466.9 C162.0,466.4 158.6,465.7 155.5,465.5 C152.4,465.3 149.7,466.4 147.3,465.9 C145.0,465.5 143.9,463.9 141.2,462.9 C138.5,461.8 134.3,461.0 131.0,459.8 C127.8,458.6 124.9,457.2 121.8,455.7 C118.8,454.2 115.2,453.0 112.7,450.6 C110.1,448.2 108.6,445.0 106.5,441.4 C104.5,437.9 102.3,433.6 100.4,429.2 C98.5,424.8 96.7,418.6 95.3,414.9 C93.9,411.2 92.9,408.8 92.2,406.7 C91.6,404.7 91.2,402.7 91.2,402.7 Z" fill="none" stroke="#000" stroke-width="1.1" opacity="0.7" transform="translate(-0.4,-0.4)"/>
<path d="M91.2,402.7 C91.2,402.7 97.2,401.1 100.4,399.6 C103.6,398.1 107.6,395.7 110.6,393.5 C113.7,391.3 116.6,388.4 118.8,386.3 C121.0,384.3 123.9,381.2 123.9,381.2 C123.9,381.2 127.1,385.8 129.0,388.4 C130.9,390.9 132.7,393.8 135.1,396.5 C137.5,399.3 140.2,402.3 143.3,404.7 C146.3,407.1 149.7,409.3 153.5,410.8 C157.2,412.3 161.0,412.9 165.7,413.9 C170.5,414.9 176.9,415.9 182.0,416.9 C187.1,418.0 191.9,419.1 196.3,420.0 C200.7,420.9 205.2,420.9 208.6,422.0 C212.0,423.2 214.5,425.3 216.7,427.1 C218.9,429.0 220.6,431.2 221.8,433.3 C223.0,435.3 224.0,437.0 223.9,439.4 C223.7,441.8 222.7,444.8 220.8,447.6 C218.9,450.3 216.4,453.0 212.7,455.7 C208.9,458.4 202.4,461.8 198.4,463.9 C194.3,465.9 191.6,467.1 188.2,468.0 C184.8,468.8 181.7,469.1 178.0,469.0 C174.2,468.8 169.5,467.5 165.7,466.9 C162.0,466.4 158.6,465.7 155.5,465.5 C152.4,465.3 149.7,466.4 147.3,465.9 C145.0,465.5 143.9,463.9 141.2,462.9 C138.5,461.8 134.3,461.0 131.0,459.8 C127.8,458.6 124.9,457.2 121.8,455.7 C118.8,454.2 115.2,453.0 112.7,450.6 C110.1,448.2 108.6,445.0 106.5,441.4 C104.5,437.9 102.3,433.6 100.4,429.2 C98.5,424.8 96.7,418.6 95.3,414.9 C93.9,411.2 92.9,408.8 92.2,406.7 C91.6,404.7 91.2,402.7 91.2,402.7 Z" fill="none" stroke="#f4f4f4" stroke-width="1.0" stroke-dasharray="1.6 1" opacity="0.85" transform="translate(0.3,0.3)"/>
</g>
<clipPath id="clipe"><rect x="423.8" y="360.6" width="307.90000000000003" height="153.0"/></clipPath>
<g clip-path="url(#clipe)">
<rect x="423.8" y="360.6" width="307.90000000000003" height="153.0" fill="#545454"/>
<path d="M572.0,376.5 C579.2,376.1 600.6,374.2 615.0,374.3 C629.3,374.5 646.5,376.7 657.9,377.6 C669.4,378.5 679.4,379.3 683.7,379.7" fill="none" stroke="#000" stroke-width="0.8" stroke-opacity="0.32" stroke-linecap="round"/><path d="M572.0,377.2 C579.2,376.8 600.6,374.9 615.0,375.0 C629.3,375.2 646.5,377.4 657.9,378.3 C669.4,379.2 679.4,380.0 683.7,380.4" fill="none" stroke="#fff" stroke-width="0.8" stroke-opacity="0.32" stroke-linecap="round"/>
<path d="M688.0,372.2 L732.0,371.1" fill="none" stroke="#000" stroke-width="0.8" stroke-opacity="0.32" stroke-linecap="round"/><path d="M688.0,372.9 L732.0,371.8" fill="none" stroke="#fff" stroke-width="0.8" stroke-opacity="0.32" stroke-linecap="round"/>
<path d="M572.0,382.9 C577.4,382.6 593.5,380.8 604.2,380.8 C615.0,380.8 623.9,381.5 636.4,382.9 C649.0,384.4 672.2,388.3 679.4,389.4" fill="none" stroke="#000" stroke-width="0.8" stroke-opacity="0.32" stroke-linecap="round"/><path d="M572.0,383.6 C577.4,383.3 593.5,381.5 604.2,381.5 C615.0,381.5 623.9,382.2 636.4,383.6 C649.0,385.1 672.2,389.0 679.4,390.1" fill="none" stroke="#fff" stroke-width="0.8" stroke-opacity="0.32" stroke-linecap="round"/>
<path d="M683.7,387.2 L732.0,389.4" fill="none" stroke="#000" stroke-width="0.8" stroke-opacity="0.32" stroke-linecap="round"/><path d="M683.7,387.9 L732.0,390.1" fill="none" stroke="#fff" stroke-width="0.8" stroke-opacity="0.32" stroke-linecap="round"/>
<path d="M572.0,403.3 C575.6,402.8 586.3,401.2 593.5,400.1 C600.6,399.0 607.8,397.4 615.0,396.9 C622.1,396.3 627.5,396.0 636.4,396.9 C645.4,397.8 663.3,401.4 668.6,402.3" fill="none" stroke="#000" stroke-width="0.8" stroke-opacity="0.32" stroke-linecap="round"/><path d="M572.0,404.0 C575.6,403.5 586.3,401.9 593.5,400.8 C600.6,399.7 607.8,398.1 615.0,397.6 C622.1,397.0 627.5,396.7 636.4,397.6 C645.4,398.5 663.3,402.1 668.6,403.0" fill="none" stroke="#fff" stroke-width="0.8" stroke-opacity="0.32" stroke-linecap="round"/>
<path d="M675.1,400.1 L732.0,402.3" fill="none" stroke="#000" stroke-width="0.8" stroke-opacity="0.32" stroke-linecap="round"/><path d="M675.1,400.8 L732.0,403.0" fill="none" stroke="#fff" stroke-width="0.8" stroke-opacity="0.32" stroke-linecap="round"/>
<path d="M572.0,416.2 C575.6,415.7 586.3,413.9 593.5,413.0 C600.6,412.1 606.0,410.5 615.0,410.8 C623.9,411.2 639.3,413.9 647.2,415.1 C655.0,416.4 659.7,417.8 662.2,418.4" fill="none" stroke="#000" stroke-width="0.8" stroke-opacity="0.32" stroke-linecap="round"/><path d="M572.0,416.9 C575.6,416.4 586.3,414.6 593.5,413.7 C600.6,412.8 606.0,411.2 615.0,411.5 C623.9,411.9 639.3,414.6 647.2,415.8 C655.0,417.1 659.7,418.5 662.2,419.1" fill="none" stroke="#fff" stroke-width="0.8" stroke-opacity="0.32" stroke-linecap="round"/>
<path d="M664.4,417.3 C670.4,417.8 689.6,420.0 700.9,420.5 C712.1,421.0 726.8,420.5 732.0,420.5" fill="none" stroke="#000" stroke-width="0.8" stroke-opacity="0.32" stroke-linecap="round"/><path d="M664.4,418.0 C670.4,418.5 689.6,420.7 700.9,421.2 C712.1,421.7 726.8,421.2 732.0,421.2" fill="none" stroke="#fff" stroke-width="0.8" stroke-opacity="0.32" stroke-linecap="round"/>
<path d="M572.0,430.2 C577.4,430.2 595.3,429.5 604.2,430.2 C613.2,430.9 619.3,432.5 625.7,434.5 C632.1,436.4 640.0,440.7 642.9,442.0" fill="none" stroke="#000" stroke-width="0.8" stroke-opacity="0.32" stroke-linecap="round"/><path d="M572.0,430.9 C577.4,430.9 595.3,430.2 604.2,430.9 C613.2,431.6 619.3,433.2 625.7,435.2 C632.1,437.1 640.0,441.4 642.9,442.7" fill="none" stroke="#fff" stroke-width="0.8" stroke-opacity="0.32" stroke-linecap="round"/>
<path d="M647.2,438.8 C652.5,439.3 665.2,441.5 679.4,442.0 C693.5,442.5 723.2,442.0 732.0,442.0" fill="none" stroke="#000" stroke-width="0.8" stroke-opacity="0.32" stroke-linecap="round"/><path d="M647.2,439.5 C652.5,440.0 665.2,442.2 679.4,442.7 C693.5,443.2 723.2,442.7 732.0,442.7" fill="none" stroke="#fff" stroke-width="0.8" stroke-opacity="0.32" stroke-linecap="round"/>
<path d="M589.2,449.5 L625.7,460.2" fill="none" stroke="#000" stroke-width="0.8" stroke-opacity="0.32" stroke-linecap="round"/><path d="M589.2,450.2 L625.7,460.9" fill="none" stroke="#fff" stroke-width="0.8" stroke-opacity="0.32" stroke-linecap="round"/>
<path d="M597.8,469.9 C604.2,470.6 622.8,473.1 636.4,474.2 C650.0,475.3 663.5,476.5 679.4,476.4 C695.3,476.2 723.2,473.7 732.0,473.1" fill="none" stroke="#000" stroke-width="0.8" stroke-opacity="0.32" stroke-linecap="round"/><path d="M597.8,470.6 C604.2,471.3 622.8,473.8 636.4,474.9 C650.0,476.0 663.5,477.2 679.4,477.1 C695.3,476.9 723.2,474.4 732.0,473.8" fill="none" stroke="#fff" stroke-width="0.8" stroke-opacity="0.32" stroke-linecap="round"/>
<path d="M572.0,483.9 C579.2,485.3 600.6,490.3 615.0,492.5 C629.3,494.6 643.6,496.4 657.9,496.8 C672.2,497.1 688.5,496.0 700.9,494.6 C713.2,493.2 726.8,489.2 732.0,488.2" fill="none" stroke="#000" stroke-width="0.8" stroke-opacity="0.32" stroke-linecap="round"/><path d="M572.0,484.6 C579.2,486.0 600.6,491.0 615.0,493.2 C629.3,495.3 643.6,497.1 657.9,497.5 C672.2,497.8 688.5,496.7 700.9,495.3 C713.2,493.9 726.8,489.9 732.0,488.9" fill="none" stroke="#fff" stroke-width="0.8" stroke-opacity="0.32" stroke-linecap="round"/>
<path d="M688.0,372.2 C680.5,384.0 652.9,428.4 642.9,443.1 C632.9,457.7 630.3,457.4 627.8,460.2" fill="none" stroke="#000" stroke-width="0.8" stroke-opacity="0.32" stroke-linecap="round"/><path d="M688.0,372.9 C680.5,384.7 652.9,429.1 642.9,443.8 C632.9,458.4 630.3,458.1 627.8,460.9" fill="none" stroke="#fff" stroke-width="0.8" stroke-opacity="0.32" stroke-linecap="round"/>
<path d="M423.0,387.2 C426.6,386.5 437.3,384.2 444.5,382.9 C451.6,381.7 458.8,380.4 466.0,379.7 C473.1,379.0 480.3,377.9 487.4,378.6 C494.6,379.3 501.8,381.9 508.9,384.0 C516.1,386.1 523.2,389.0 530.4,391.5 C537.5,394.0 544.7,397.1 551.9,399.0 C559.0,401.0 568.2,402.6 573.3,403.3 C578.5,404.0 581.4,403.3 583.0,403.3" fill="none" stroke="#000" stroke-width="0.8" stroke-opacity="0.32" stroke-linecap="round"/><path d="M423.0,387.9 C426.6,387.2 437.3,384.9 444.5,383.6 C451.6,382.4 458.8,381.1 466.0,380.4 C473.1,379.7 480.3,378.6 487.4,379.3 C494.6,380.0 501.8,382.6 508.9,384.7 C516.1,386.8 523.2,389.7 530.4,392.2 C537.5,394.7 544.7,397.8 551.9,399.7 C559.0,401.7 568.2,403.3 573.3,404.0 C578.5,404.7 581.4,404.0 583.0,404.0" fill="none" stroke="#fff" stroke-width="0.8" stroke-opacity="0.32" stroke-linecap="round"/>
<path d="M423.0,370.0 C430.2,369.7 451.6,367.9 466.0,367.9 C480.3,367.9 494.6,369.0 508.9,370.0 C523.2,371.1 539.5,373.3 551.9,374.3 C564.2,375.4 577.8,376.1 583.0,376.5" fill="none" stroke="#000" stroke-width="0.8" stroke-opacity="0.32" stroke-linecap="round"/><path d="M423.0,370.7 C430.2,370.4 451.6,368.6 466.0,368.6 C480.3,368.6 494.6,369.7 508.9,370.7 C523.2,371.8 539.5,374.0 551.9,375.0 C564.2,376.1 577.8,376.8 583.0,377.2" fill="none" stroke="#fff" stroke-width="0.8" stroke-opacity="0.32" stroke-linecap="round"/>
<path d="M483.1,398.0 C489.2,399.4 508.2,403.7 519.6,406.6 C531.1,409.4 541.3,413.4 551.9,415.1 C562.4,416.9 577.8,416.9 583.0,417.3" fill="none" stroke="#000" stroke-width="0.8" stroke-opacity="0.32" stroke-linecap="round"/><path d="M483.1,398.7 C489.2,400.1 508.2,404.4 519.6,407.3 C531.1,410.1 541.3,414.1 551.9,415.8 C562.4,417.6 577.8,417.6 583.0,418.0" fill="none" stroke="#fff" stroke-width="0.8" stroke-opacity="0.32" stroke-linecap="round"/>
<path d="M487.4,479.6 C494.6,479.0 514.5,475.6 530.4,476.4 C546.3,477.1 574.2,482.6 583.0,483.9" fill="none" stroke="#000" stroke-width="0.8" stroke-opacity="0.32" stroke-linecap="round"/><path d="M487.4,480.3 C494.6,479.7 514.5,476.3 530.4,477.1 C546.3,477.8 574.2,483.3 583.0,484.6" fill="none" stroke="#fff" stroke-width="0.8" stroke-opacity="0.32" stroke-linecap="round"/>
<path d="M572.0,447.3 L589.2,449.4" fill="none" stroke="#000" stroke-width="1.0" stroke-opacity="0.9" stroke-linecap="round"/><path d="M572.0,448.1 L589.2,450.2" fill="none" stroke="#fff" stroke-width="1.0" stroke-opacity="0.9" stroke-linecap="round"/>
<path d="M572.0,459.1 L597.8,469.8" fill="none" stroke="#000" stroke-width="1.0" stroke-opacity="0.9" stroke-linecap="round"/><path d="M572.0,459.9 L597.8,470.6" fill="none" stroke="#fff" stroke-width="1.0" stroke-opacity="0.9" stroke-linecap="round"/>
<path d="M569.0,445.1 L583.0,448.3" fill="none" stroke="#000" stroke-width="1.0" stroke-opacity="0.9" stroke-linecap="round"/><path d="M569.0,445.9 L583.0,449.1" fill="none" stroke="#fff" stroke-width="1.0" stroke-opacity="0.9" stroke-linecap="round"/>
<path d="M569.0,456.9 L583.0,464.4" fill="none" stroke="#000" stroke-width="1.0" stroke-opacity="0.9" stroke-linecap="round"/><path d="M569.0,457.7 L583.0,465.2" fill="none" stroke="#fff" stroke-width="1.0" stroke-opacity="0.9" stroke-linecap="round"/>
<path d="M437.0,402.3 C438.6,400.7 445.0,401.6 448.8,399.7 C452.5,397.9 456.6,393.6 459.5,391.1 C462.4,388.6 464.1,386.4 466.0,384.7 C467.8,383.0 469.2,380.7 470.7,381.0 C472.1,381.4 472.8,384.3 474.5,386.8 C476.3,389.4 478.1,393.5 481.0,396.5 C483.9,399.6 487.8,402.6 491.7,405.1 C495.7,407.6 500.3,410.1 504.6,411.5 C508.9,413.0 512.5,412.6 517.5,413.7 C522.5,414.8 529.0,416.7 534.7,418.0 C540.4,419.2 547.6,420.0 551.9,421.2 C556.2,422.5 558.0,423.5 560.5,425.5 C563.0,427.5 565.3,430.9 566.9,433.0 C568.5,435.2 570.1,436.2 570.1,438.4 C570.1,440.5 568.5,443.6 566.9,445.9 C565.3,448.2 563.3,450.2 560.5,452.4 C557.6,454.5 553.7,456.6 549.7,458.8 C545.8,460.9 540.8,463.6 536.8,465.2 C532.9,466.9 529.7,468.3 526.1,468.5 C522.5,468.6 518.9,466.9 515.4,466.3 C511.8,465.8 507.8,465.2 504.6,465.2 C501.4,465.2 498.9,466.9 496.0,466.3 C493.2,465.8 490.7,463.3 487.4,462.0 C484.2,460.8 480.3,460.1 476.7,458.8 C473.1,457.5 469.2,456.1 466.0,454.5 C462.7,452.9 460.2,452.4 457.4,449.1 C454.5,445.9 451.1,439.6 448.8,435.2 C446.4,430.7 445.0,426.6 443.4,422.3 C441.8,418.0 440.2,412.7 439.1,409.4 C438.0,406.1 435.3,403.9 437.0,402.3 Z" fill="none" stroke="#111" stroke-width="1.2" opacity="0.5" transform="translate(0.4,0.8)"/>
<path d="M437.0,402.3 C438.6,400.7 445.0,401.6 448.8,399.7 C452.5,397.9 456.6,393.6 459.5,391.1 C462.4,388.6 464.1,386.4 466.0,384.7 C467.8,383.0 469.2,380.7 470.7,381.0 C472.1,381.4 472.8,384.3 474.5,386.8 C476.3,389.4 478.1,393.5 481.0,396.5 C483.9,399.6 487.8,402.6 491.7,405.1 C495.7,407.6 500.3,410.1 504.6,411.5 C508.9,413.0 512.5,412.6 517.5,413.7 C522.5,414.8 529.0,416.7 534.7,418.0 C540.4,419.2 547.6,420.0 551.9,421.2 C556.2,422.5 558.0,423.5 560.5,425.5 C563.0,427.5 565.3,430.9 566.9,433.0 C568.5,435.2 570.1,436.2 570.1,438.4 C570.1,440.5 568.5,443.6 566.9,445.9 C565.3,448.2 563.3,450.2 560.5,452.4 C557.6,454.5 553.7,456.6 549.7,458.8 C545.8,460.9 540.8,463.6 536.8,465.2 C532.9,466.9 529.7,468.3 526.1,468.5 C522.5,468.6 518.9,466.9 515.4,466.3 C511.8,465.8 507.8,465.2 504.6,465.2 C501.4,465.2 498.9,466.9 496.0,466.3 C493.2,465.8 490.7,463.3 487.4,462.0 C484.2,460.8 480.3,460.1 476.7,458.8 C473.1,457.5 469.2,456.1 466.0,454.5 C462.7,452.9 460.2,452.4 457.4,449.1 C454.5,445.9 451.1,439.6 448.8,435.2 C446.4,430.7 445.0,426.6 443.4,422.3 C441.8,418.0 440.2,412.7 439.1,409.4 C438.0,406.1 435.3,403.9 437.0,402.3 Z" fill="none" stroke="#f4f4f4" stroke-width="1.1" opacity="0.9"/>
<path d="M437.6,406.2 C438.0,407.4 439.2,411.0 440.2,413.7 C441.1,416.4 442.0,418.7 443.4,422.3 C444.8,425.9 446.8,431.2 448.8,435.2 C450.7,439.1 453.4,443.2 455.2,445.9 C457.0,448.6 458.8,450.4 459.5,451.3" fill="none" stroke="#545454" stroke-width="2.4" opacity="0.65"/>
</g>
<rect x="64.5" y="541" width="309.7" height="156.39999999999998" fill="#fcfcfc"/>
<clipPath id="clipf"><rect x="65.8" y="542.3" width="305.59999999999997" height="152.10000000000002"/></clipPath>
<g clip-path="url(#clipf)">
<rect x="65.8" y="542.3" width="305.59999999999997" height="152.10000000000002" fill="#585858"/>
<path d="M94.9,562.0 C97.4,562.8 102.5,565.5 110.3,566.6 C118.0,567.7 130.6,568.8 141.3,568.8 C152.0,568.8 162.2,566.9 174.4,566.5 C186.5,566.1 200.9,565.2 214.2,566.5 C227.4,567.8 241.0,570.8 253.9,574.3 C266.7,577.8 279.5,582.9 291.3,587.5 C303.0,592.1 318.9,599.4 324.4,601.8" fill="none" stroke="#000" stroke-width="1.1" stroke-opacity="0.6" stroke-linecap="round"/><path d="M94.7,563.0 C97.3,563.8 102.4,566.5 110.1,567.6 C117.8,568.7 130.4,569.8 141.1,569.8 C151.8,569.8 162.0,567.9 174.2,567.5 C186.3,567.1 200.8,566.2 214.0,567.5 C227.2,568.8 240.8,571.8 253.7,575.3 C266.6,578.8 279.4,583.9 291.1,588.5 C302.9,593.1 318.7,600.4 324.2,602.8" fill="none" stroke="#fff" stroke-width="1.1" stroke-opacity="0.8" stroke-linecap="round"/>
<path d="M201.1,542.4 C203.3,542.8 209.3,543.0 214.5,544.6 C219.7,546.3 227.0,549.4 232.1,552.3 C237.3,555.3 241.7,558.7 245.4,562.2 C249.1,565.7 252.7,571.5 254.2,573.3" fill="none" stroke="#000" stroke-width="1.1" stroke-opacity="0.6" stroke-linecap="round"/><path d="M200.6,543.3 C202.8,543.7 208.8,543.9 214.0,545.5 C219.2,547.1 226.4,550.3 231.6,553.2 C236.8,556.1 241.2,559.6 244.9,563.1 C248.6,566.6 252.2,572.4 253.7,574.2" fill="none" stroke="#fff" stroke-width="1.1" stroke-opacity="0.8" stroke-linecap="round"/>
<path d="M161.3,625.0 C167.1,626.5 186.0,631.1 196.5,633.8 C207.0,636.6 215.8,639.0 224.3,641.5 C232.7,644.1 238.7,646.5 247.3,649.2 C255.9,652.0 271.2,656.6 276.0,658.0" fill="none" stroke="#000" stroke-width="1.1" stroke-opacity="0.6" stroke-linecap="round"/><path d="M161.0,626.0 C166.9,627.5 185.7,632.0 196.2,634.8 C206.7,637.5 215.5,639.9 224.0,642.5 C232.5,645.1 238.4,647.5 247.0,650.2 C255.6,653.0 270.9,657.5 275.7,659.0" fill="none" stroke="#fff" stroke-width="1.1" stroke-opacity="0.8" stroke-linecap="round"/>
<path d="M369.7,544.9 L334.4,586.8" fill="none" stroke="#000" stroke-width="1.1" stroke-opacity="0.6" stroke-linecap="round"/><path d="M370.5,545.5 L335.2,587.4" fill="none" stroke="#fff" stroke-width="1.1" stroke-opacity="0.8" stroke-linecap="round"/>
<path d="M334.3,586.9 L326.6,601.2" fill="none" stroke="#000" stroke-width="1.1" stroke-opacity="0.6" stroke-linecap="round"/><path d="M335.2,587.4 L327.5,601.7" fill="none" stroke="#fff" stroke-width="1.1" stroke-opacity="0.8" stroke-linecap="round"/>
<path d="M326.8,601.0 L279.4,651.7" fill="none" stroke="#000" stroke-width="1.1" stroke-opacity="0.6" stroke-linecap="round"/><path d="M327.5,601.7 L280.1,652.4" fill="none" stroke="#fff" stroke-width="1.1" stroke-opacity="0.8" stroke-linecap="round"/>
<path d="M335.4,587.5 L374.2,594.1" fill="none" stroke="#000" stroke-width="1.1" stroke-opacity="0.6" stroke-linecap="round"/><path d="M335.2,588.5 L374.0,595.1" fill="none" stroke="#fff" stroke-width="1.1" stroke-opacity="0.8" stroke-linecap="round"/>
<path d="M192.0,684.5 C197.3,685.6 216.8,689.7 224.2,691.0 C231.5,692.3 234.2,692.0 236.2,692.2" fill="none" stroke="#000" stroke-width="1.1" stroke-opacity="0.6" stroke-linecap="round"/><path d="M191.8,685.5 C197.2,686.6 216.6,690.7 224.0,692.0 C231.4,693.3 234.0,693.0 236.0,693.2" fill="none" stroke="#fff" stroke-width="1.1" stroke-opacity="0.8" stroke-linecap="round"/>
<path d="M66.8,542.5 C68.0,543.5 71.4,546.1 74.2,548.3 C76.9,550.6 79.9,553.0 83.4,556.0 C86.9,559.1 92.4,563.7 94.9,566.8 C97.5,569.9 96.7,571.0 98.8,574.5 C100.8,577.9 105.8,585.3 107.2,587.5" fill="none" stroke="#000" stroke-width="1.7" stroke-opacity="0.95" stroke-linecap="round"/><path d="M65.8,543.4 C67.1,544.4 70.5,547.0 73.2,549.2 C76.0,551.5 79.0,553.8 82.4,556.9 C85.9,560.0 91.4,564.6 94.0,567.6 C96.5,570.7 95.7,571.9 97.8,575.3 C99.8,578.8 104.8,586.2 106.2,588.4" fill="none" stroke="#fff" stroke-width="1.7" stroke-opacity="0.95" stroke-linecap="round"/>
<path d="M104.5,589.9 C103.5,592.2 100.7,599.7 98.4,603.8 C96.1,607.9 94.0,610.4 90.7,614.5 C87.4,618.6 82.7,624.2 78.4,628.3 C74.1,632.5 67.2,637.6 64.9,639.4" fill="none" stroke="#000" stroke-width="1.6" stroke-opacity="0.9" stroke-linecap="round"/><path d="M105.5,590.7 C104.5,593.0 101.6,600.4 99.3,604.5 C97.0,608.6 95.0,611.2 91.6,615.3 C88.3,619.4 83.7,624.9 79.4,629.1 C75.1,633.2 68.1,638.3 65.8,640.2" fill="none" stroke="#fff" stroke-width="1.6" stroke-opacity="0.9" stroke-linecap="round"/>
<path d="M104.3,612.9 C107.0,613.3 114.5,614.1 120.6,615.1 C126.7,616.2 134.2,617.7 141.0,619.2 C147.8,620.7 158.0,623.1 161.4,623.9" fill="none" stroke="#000" stroke-width="1.6" stroke-opacity="0.85" stroke-linecap="round"/>
<path d="M104.3,614.1 C107.0,613.9 114.5,615.3 120.6,616.3 C126.7,617.4 134.2,618.9 141.0,620.4 C147.8,621.9 158.0,624.1 161.4,625.1 C164.8,626.1 164.8,626.6 161.4,626.3 C158.0,626.1 147.8,624.5 141.0,623.5 C134.2,622.4 126.7,621.1 120.6,620.1 C114.5,619.1 107.0,618.6 104.3,617.6 C101.6,616.5 101.6,614.3 104.3,614.1 Z" fill="#f4f4f4" fill-opacity="0.95"/>
<path d="M161.4,627.1 C158.0,626.7 147.8,625.3 141.0,624.3 C134.2,623.2 126.7,621.9 120.6,620.9 C114.5,619.9 107.0,618.8 104.3,618.4" fill="none" stroke="#000" stroke-width="1.0" stroke-opacity="0.35" stroke-linecap="round"/>
<path d="M83.3,641.7 L93.2,643.6" fill="none" stroke="#000" stroke-width="1.4" stroke-opacity="0.8" stroke-linecap="round"/>
<path d="M79.1,646.3 C80.2,646.7 83.7,648.0 85.8,648.6 C87.8,649.3 90.6,650.0 91.6,650.3" fill="none" stroke="#fff" stroke-width="2.2" stroke-opacity="0.85" stroke-linecap="round"/>
<path d="M91.6,650.3 C93.5,651.3 99.0,654.6 103.2,656.6 C107.3,658.6 114.2,661.4 116.4,662.4" fill="none" stroke="#fff" stroke-width="1.2" stroke-opacity="0.35" stroke-linecap="round"/>
<path d="M119.8,655.3 C125.3,657.5 140.8,663.9 152.9,668.5 C165.1,673.1 186.1,680.4 192.7,682.8" fill="none" stroke="#000" stroke-width="1.3" stroke-opacity="0.8" stroke-linecap="round"/>
<path d="M121.4,657.9 C126.7,660.0 141.6,666.4 152.9,670.7 C164.3,674.9 183.3,681.3 189.4,683.4" fill="none" stroke="#fff" stroke-width="1.0" stroke-opacity="0.6" stroke-linecap="round"/>
<path d="M116.4,661.2 C121.1,662.9 135.8,668.4 144.6,671.2 C153.5,673.9 162.0,675.8 169.5,677.8 C177.0,679.9 186.1,682.5 189.4,683.4" fill="none" stroke="#000" stroke-width="1.3" stroke-opacity="0.85" stroke-linecap="round"/>
<path d="M116.4,663.7 C121.1,665.3 135.8,670.7 144.6,673.5 C153.5,676.3 162.2,678.4 169.5,680.3 C176.8,682.2 185.4,684.0 188.6,684.8" fill="none" stroke="#fff" stroke-width="2.6" stroke-opacity="0.95" stroke-linecap="round"/>
<circle cx="100.3" cy="615.5" r="2.3" fill="#000" opacity="0.75"/>
<path d="M96.5,612.0 C97.1,611.8 98.7,610.8 100.0,610.8 C101.3,610.8 103.8,612.0 104.5,612.2" fill="none" stroke="#fff" stroke-width="1.4" stroke-opacity="0.85" stroke-linecap="round"/>
</g>
<rect x="424.1" y="540" width="309.9" height="156.39999999999998" fill="#fcfcfc"/>
<clipPath id="clipg"><rect x="425.40000000000003" y="541.3" width="305.8" height="152.10000000000002"/></clipPath>
<g clip-path="url(#clipg)">
<rect x="425.40000000000003" y="541.3" width="305.8" height="152.10000000000002" fill="#6f6f6f"/>
<path d="M454.5,561.0 C457.0,561.8 462.1,564.5 469.9,565.6 C477.6,566.7 490.2,567.8 500.9,567.8 C511.6,567.8 521.8,565.9 534.0,565.5 C546.1,565.1 560.5,564.2 573.8,565.5 C587.0,566.8 600.6,569.8 613.5,573.3 C626.3,576.8 639.1,581.9 650.9,586.5 C662.6,591.1 678.5,598.4 684.0,600.8" fill="none" stroke="#000" stroke-width="1.1" stroke-opacity="0.6" stroke-linecap="round"/><path d="M454.3,562.0 C456.9,562.8 462.0,565.5 469.7,566.6 C477.4,567.7 490.0,568.8 500.7,568.8 C511.4,568.8 521.6,566.9 533.8,566.5 C545.9,566.1 560.4,565.2 573.6,566.5 C586.9,567.8 600.4,570.8 613.3,574.3 C626.1,577.8 639.0,582.9 650.7,587.5 C662.5,592.1 678.3,599.4 683.8,601.8" fill="none" stroke="#fff" stroke-width="1.1" stroke-opacity="0.8" stroke-linecap="round"/>
<path d="M560.7,541.4 C562.9,541.8 568.9,542.0 574.1,543.6 C579.3,545.3 586.6,548.4 591.7,551.3 C596.9,554.3 601.3,557.7 605.0,561.2 C608.7,564.7 612.3,570.5 613.8,572.3" fill="none" stroke="#000" stroke-width="1.1" stroke-opacity="0.6" stroke-linecap="round"/><path d="M560.2,542.3 C562.4,542.7 568.4,542.9 573.6,544.5 C578.8,546.1 586.1,549.3 591.2,552.2 C596.4,555.1 600.8,558.6 604.5,562.1 C608.2,565.6 611.8,571.4 613.3,573.2" fill="none" stroke="#fff" stroke-width="1.1" stroke-opacity="0.8" stroke-linecap="round"/>
<path d="M520.9,624.0 C526.7,625.5 545.6,630.1 556.1,632.8 C566.6,635.6 575.4,638.0 583.9,640.5 C592.3,643.1 598.3,645.5 606.9,648.2 C615.5,651.0 630.8,655.6 635.6,657.0" fill="none" stroke="#000" stroke-width="1.1" stroke-opacity="0.6" stroke-linecap="round"/><path d="M520.6,625.0 C526.5,626.5 545.3,631.0 555.8,633.8 C566.3,636.5 575.1,638.9 583.6,641.5 C592.1,644.1 598.0,646.5 606.6,649.2 C615.2,652.0 630.5,656.5 635.3,658.0" fill="none" stroke="#fff" stroke-width="1.1" stroke-opacity="0.8" stroke-linecap="round"/>
<path d="M729.3,543.9 L694.0,585.8" fill="none" stroke="#000" stroke-width="1.1" stroke-opacity="0.6" stroke-linecap="round"/><path d="M730.1,544.5 L694.8,586.4" fill="none" stroke="#fff" stroke-width="1.1" stroke-opacity="0.8" stroke-linecap="round"/>
<path d="M693.9,585.9 L686.2,600.2" fill="none" stroke="#000" stroke-width="1.1" stroke-opacity="0.6" stroke-linecap="round"/><path d="M694.8,586.4 L687.1,600.7" fill="none" stroke="#fff" stroke-width="1.1" stroke-opacity="0.8" stroke-linecap="round"/>
<path d="M686.4,600.0 L639.0,650.7" fill="none" stroke="#000" stroke-width="1.1" stroke-opacity="0.6" stroke-linecap="round"/><path d="M687.1,600.7 L639.7,651.4" fill="none" stroke="#fff" stroke-width="1.1" stroke-opacity="0.8" stroke-linecap="round"/>
<path d="M695.0,586.5 L733.8,593.1" fill="none" stroke="#000" stroke-width="1.1" stroke-opacity="0.6" stroke-linecap="round"/><path d="M694.8,587.5 L733.6,594.1" fill="none" stroke="#fff" stroke-width="1.1" stroke-opacity="0.8" stroke-linecap="round"/>
<path d="M551.6,683.5 C556.9,684.6 576.4,688.7 583.8,690.0 C591.1,691.3 593.8,691.0 595.8,691.2" fill="none" stroke="#000" stroke-width="1.1" stroke-opacity="0.6" stroke-linecap="round"/><path d="M551.4,684.5 C556.8,685.6 576.2,689.7 583.6,691.0 C591.0,692.3 593.6,692.0 595.6,692.2" fill="none" stroke="#fff" stroke-width="1.1" stroke-opacity="0.8" stroke-linecap="round"/>
<path d="M426.7,540.9 C428.9,542.9 435.4,548.7 440.2,552.8 C445.0,557.0 453.0,563.7 455.6,565.9" fill="none" stroke="#000" stroke-width="1.7" stroke-opacity="0.95" stroke-linecap="round"/><path d="M425.8,541.8 C428.1,543.8 434.5,549.7 439.4,553.8 C444.2,558.0 452.2,564.7 454.7,566.9" fill="none" stroke="#fff" stroke-width="1.7" stroke-opacity="0.95" stroke-linecap="round"/>
<path d="M455.5,566.5 C456.3,568.0 458.5,572.5 460.1,575.7 C461.8,578.9 464.6,584.0 465.5,585.7" fill="none" stroke="#000" stroke-width="1.1" stroke-opacity="0.5" stroke-linecap="round"/><path d="M454.7,566.9 C455.5,568.4 457.7,572.9 459.3,576.1 C461.0,579.3 463.8,584.4 464.7,586.1" fill="none" stroke="#fff" stroke-width="1.1" stroke-opacity="0.55" stroke-linecap="round"/>
<path d="M462.3,591.6 C461.8,593.4 460.4,599.2 459.2,602.3 C458.1,605.4 457.0,607.3 455.4,610.0 C453.7,612.7 451.5,615.6 449.2,618.4 C446.9,621.3 444.4,624.1 441.6,626.9 C438.7,629.7 435.1,633.0 432.3,635.3 C429.6,637.7 426.2,640.1 425.0,641.0" fill="none" stroke="#000" stroke-width="1.4" stroke-opacity="0.75" stroke-linecap="round"/><path d="M463.2,592.2 C462.7,594.0 461.3,599.9 460.1,603.0 C458.9,606.1 457.9,608.0 456.3,610.7 C454.6,613.3 452.4,616.3 450.1,619.1 C447.8,621.9 445.2,624.7 442.4,627.6 C439.6,630.4 436.0,633.7 433.2,636.0 C430.5,638.4 427.1,640.7 425.8,641.7" fill="none" stroke="#fff" stroke-width="1.4" stroke-opacity="0.7" stroke-linecap="round"/>
<path d="M456.1,611.0 C460.2,611.6 473.1,613.1 480.6,614.1 C488.1,615.1 494.2,615.6 501.0,617.2 C507.8,618.7 518.0,622.3 521.4,623.3" fill="none" stroke="#000" stroke-width="1.6" stroke-opacity="0.85" stroke-linecap="round"/>
<path d="M456.1,612.2 C460.2,612.2 473.1,614.3 480.6,615.3 C488.1,616.3 494.2,616.8 501.0,618.4 C507.8,619.9 518.0,623.2 521.4,624.5 C524.8,625.8 524.8,626.3 521.4,626.0 C518.0,625.8 507.8,624.1 501.0,623.0 C494.2,621.9 488.1,620.7 480.6,619.4 C473.1,618.1 460.2,616.5 456.1,615.3 C452.0,614.1 452.0,612.2 456.1,612.2 Z" fill="#f4f4f4" fill-opacity="0.95"/>
<path d="M521.4,626.8 C518.0,626.3 507.8,624.9 501.0,623.8 C494.2,622.7 488.1,621.5 480.6,620.2 C473.1,618.9 460.2,616.8 456.1,616.1" fill="none" stroke="#000" stroke-width="1.0" stroke-opacity="0.35" stroke-linecap="round"/>
<path d="M434.0,637.0 C438.3,638.5 448.3,641.8 460.0,646.0 C471.7,650.2 492.3,657.8 504.0,662.0 C515.7,666.2 522.0,668.4 530.0,671.5 C538.0,674.6 548.3,679.0 552.0,680.5" fill="none" stroke="#000" stroke-width="1.4" stroke-opacity="0.85" stroke-linecap="round"/>
<path d="M434.0,638.5 C438.3,640.0 448.3,643.3 460.0,647.5 C471.7,651.7 492.3,659.2 504.0,663.5 C515.7,667.8 522.0,669.9 530.0,673.0 C538.0,676.1 548.3,680.5 552.0,682.0" fill="none" stroke="#fff" stroke-width="1.5" stroke-opacity="0.85" stroke-linecap="round"/>
<path d="M444.0,649.1 C448.3,650.4 461.5,654.3 470.0,657.1 C478.5,659.9 485.8,663.0 495.0,666.1 C504.2,669.2 515.7,672.8 525.0,675.6 C534.3,678.4 546.7,681.9 551.0,683.1" fill="none" stroke="#000" stroke-width="1.2" stroke-opacity="0.75" stroke-linecap="round"/>
<path d="M444.0,650.5 C448.3,651.8 461.5,655.7 470.0,658.5 C478.5,661.3 485.8,664.4 495.0,667.5 C504.2,670.6 515.7,674.2 525.0,677.0 C534.3,679.8 546.7,683.2 551.0,684.5" fill="none" stroke="#fff" stroke-width="1.8" stroke-opacity="0.95" stroke-linecap="round"/>
</g>
<line x1="80" y1="50" x2="80" y2="47" stroke="#222" stroke-width="1"/>
<text transform="translate(80,45.8)" text-anchor="middle" font-size="12.5">0</text>
<line x1="111.89" y1="50" x2="111.89" y2="47" stroke="#222" stroke-width="1"/>
<text transform="translate(111.89,45.8)" text-anchor="middle" font-size="12.5">0.2</text>
<line x1="143.78" y1="50" x2="143.78" y2="47" stroke="#222" stroke-width="1"/>
<text transform="translate(143.78,45.8)" text-anchor="middle" font-size="12.5">0.4</text>
<line x1="175.67" y1="50" x2="175.67" y2="47" stroke="#222" stroke-width="1"/>
<text transform="translate(175.67,45.8)" text-anchor="middle" font-size="12.5">0.6</text>
<line x1="207.56" y1="50" x2="207.56" y2="47" stroke="#222" stroke-width="1"/>
<text transform="translate(207.56,45.8)" text-anchor="middle" font-size="12.5">0.8</text>
<line x1="239.44" y1="50" x2="239.44" y2="47" stroke="#222" stroke-width="1"/>
<text transform="translate(239.44,45.8)" text-anchor="middle" font-size="12.5">1.0</text>
<line x1="271.33" y1="50" x2="271.33" y2="47" stroke="#222" stroke-width="1"/>
<text transform="translate(271.33,45.8)" text-anchor="middle" font-size="12.5">1.2</text>
<line x1="303.22" y1="50" x2="303.22" y2="47" stroke="#222" stroke-width="1"/>
<text transform="translate(303.22,45.8)" text-anchor="middle" font-size="12.5">1.4</text>
<line x1="335.11" y1="50" x2="335.11" y2="47" stroke="#222" stroke-width="1"/>
<text transform="translate(335.11,45.8)" text-anchor="middle" font-size="12.5">1.6</text>
<line x1="367" y1="50" x2="367" y2="47" stroke="#222" stroke-width="1"/>
<text transform="translate(367,45.8)" text-anchor="middle" font-size="12.5">1.8</text>
<line x1="80" y1="50" x2="77" y2="50" stroke="#222" stroke-width="1"/>
<text transform="translate(75.1,54.5)" text-anchor="end" font-size="12.5">0</text>
<line x1="80" y1="65.46" x2="77" y2="65.46" stroke="#222" stroke-width="1"/>
<text transform="translate(75.1,69.96)" text-anchor="end" font-size="12.5">1000</text>
<line x1="80" y1="80.93" x2="77" y2="80.93" stroke="#222" stroke-width="1"/>
<text transform="translate(75.1,85.43)" text-anchor="end" font-size="12.5">2000</text>
<line x1="80" y1="96.39" x2="77" y2="96.39" stroke="#222" stroke-width="1"/>
<text transform="translate(75.1,100.89)" text-anchor="end" font-size="12.5">3000</text>
<line x1="80" y1="111.85" x2="77" y2="111.85" stroke="#222" stroke-width="1"/>
<text transform="translate(75.1,116.35)" text-anchor="end" font-size="12.5">4000</text>
<line x1="80" y1="127.32" x2="77" y2="127.32" stroke="#222" stroke-width="1"/>
<text transform="translate(75.1,131.82)" text-anchor="end" font-size="12.5">5000</text>
<line x1="80" y1="142.78" x2="77" y2="142.78" stroke="#222" stroke-width="1"/>
<text transform="translate(75.1,147.28)" text-anchor="end" font-size="12.5">6000</text>
<line x1="80" y1="158.24" x2="77" y2="158.24" stroke="#222" stroke-width="1"/>
<text transform="translate(75.1,162.74)" text-anchor="end" font-size="12.5">7000</text>
<rect x="80" y="50" width="287" height="115.2" fill="none" stroke="#333" stroke-width="1.6"/>
<text x="218.6" y="32" text-anchor="middle" font-size="12.6"><tspan font-style="italic">x</tspan>/10<tspan font-size="7" dy="-3.6">4</tspan><tspan dy="3.6">m</tspan></text>
<line x1="446.5" y1="50" x2="446.5" y2="47" stroke="#222" stroke-width="1"/>
<text transform="translate(446.5,45.8)" text-anchor="middle" font-size="12.5">0</text>
<line x1="478.56" y1="50" x2="478.56" y2="47" stroke="#222" stroke-width="1"/>
<text transform="translate(478.56,45.8)" text-anchor="middle" font-size="12.5">0.2</text>
<line x1="510.61" y1="50" x2="510.61" y2="47" stroke="#222" stroke-width="1"/>
<text transform="translate(510.61,45.8)" text-anchor="middle" font-size="12.5">0.4</text>
<line x1="542.67" y1="50" x2="542.67" y2="47" stroke="#222" stroke-width="1"/>
<text transform="translate(542.67,45.8)" text-anchor="middle" font-size="12.5">0.6</text>
<line x1="574.72" y1="50" x2="574.72" y2="47" stroke="#222" stroke-width="1"/>
<text transform="translate(574.72,45.8)" text-anchor="middle" font-size="12.5">0.8</text>
<line x1="606.78" y1="50" x2="606.78" y2="47" stroke="#222" stroke-width="1"/>
<text transform="translate(606.78,45.8)" text-anchor="middle" font-size="12.5">1.0</text>
<line x1="638.83" y1="50" x2="638.83" y2="47" stroke="#222" stroke-width="1"/>
<text transform="translate(638.83,45.8)" text-anchor="middle" font-size="12.5">1.2</text>
<line x1="670.89" y1="50" x2="670.89" y2="47" stroke="#222" stroke-width="1"/>
<text transform="translate(670.89,45.8)" text-anchor="middle" font-size="12.5">1.4</text>
<line x1="702.94" y1="50" x2="702.94" y2="47" stroke="#222" stroke-width="1"/>
<text transform="translate(702.94,45.8)" text-anchor="middle" font-size="12.5">1.6</text>
<line x1="735" y1="50" x2="735" y2="47" stroke="#222" stroke-width="1"/>
<text transform="translate(735,45.8)" text-anchor="middle" font-size="12.5">1.8</text>
<line x1="446.5" y1="50" x2="443.5" y2="50" stroke="#222" stroke-width="1"/>
<text transform="translate(441.6,54.5)" text-anchor="end" font-size="12.5">0</text>
<line x1="446.5" y1="65.46" x2="443.5" y2="65.46" stroke="#222" stroke-width="1"/>
<text transform="translate(441.6,69.96)" text-anchor="end" font-size="12.5">1000</text>
<line x1="446.5" y1="80.93" x2="443.5" y2="80.93" stroke="#222" stroke-width="1"/>
<text transform="translate(441.6,85.43)" text-anchor="end" font-size="12.5">2000</text>
<line x1="446.5" y1="96.39" x2="443.5" y2="96.39" stroke="#222" stroke-width="1"/>
<text transform="translate(441.6,100.89)" text-anchor="end" font-size="12.5">3000</text>
<line x1="446.5" y1="111.85" x2="443.5" y2="111.85" stroke="#222" stroke-width="1"/>
<text transform="translate(441.6,116.35)" text-anchor="end" font-size="12.5">4000</text>
<line x1="446.5" y1="127.32" x2="443.5" y2="127.32" stroke="#222" stroke-width="1"/>
<text transform="translate(441.6,131.82)" text-anchor="end" font-size="12.5">5000</text>
<line x1="446.5" y1="142.78" x2="443.5" y2="142.78" stroke="#222" stroke-width="1"/>
<text transform="translate(441.6,147.28)" text-anchor="end" font-size="12.5">6000</text>
<line x1="446.5" y1="158.24" x2="443.5" y2="158.24" stroke="#222" stroke-width="1"/>
<text transform="translate(441.6,162.74)" text-anchor="end" font-size="12.5">7000</text>
<rect x="446.5" y="50" width="288.5" height="115.2" fill="none" stroke="#333" stroke-width="1.6"/>
<text x="584.7" y="31.4" text-anchor="middle" font-size="12.6"><tspan font-style="italic">x</tspan>/10<tspan font-size="7" dy="-3.6">4</tspan><tspan dy="3.6">m</tspan></text>
<line x1="242.2" y1="203.6" x2="242.2" y2="200.6" stroke="#222" stroke-width="1"/>
<text transform="translate(242.2,198.6)" text-anchor="middle" font-size="12.5">0</text>
<line x1="274.21" y1="203.6" x2="274.21" y2="200.6" stroke="#222" stroke-width="1"/>
<text transform="translate(274.21,198.6)" text-anchor="middle" font-size="12.5">0.2</text>
<line x1="306.22" y1="203.6" x2="306.22" y2="200.6" stroke="#222" stroke-width="1"/>
<text transform="translate(306.22,198.6)" text-anchor="middle" font-size="12.5">0.4</text>
<line x1="338.23" y1="203.6" x2="338.23" y2="200.6" stroke="#222" stroke-width="1"/>
<text transform="translate(338.23,198.6)" text-anchor="middle" font-size="12.5">0.6</text>
<line x1="370.24" y1="203.6" x2="370.24" y2="200.6" stroke="#222" stroke-width="1"/>
<text transform="translate(370.24,198.6)" text-anchor="middle" font-size="12.5">0.8</text>
<line x1="402.26" y1="203.6" x2="402.26" y2="200.6" stroke="#222" stroke-width="1"/>
<text transform="translate(402.26,198.6)" text-anchor="middle" font-size="12.5">1.0</text>
<line x1="434.27" y1="203.6" x2="434.27" y2="200.6" stroke="#222" stroke-width="1"/>
<text transform="translate(434.27,198.6)" text-anchor="middle" font-size="12.5">1.2</text>
<line x1="466.28" y1="203.6" x2="466.28" y2="200.6" stroke="#222" stroke-width="1"/>
<text transform="translate(466.28,198.6)" text-anchor="middle" font-size="12.5">1.4</text>
<line x1="498.29" y1="203.6" x2="498.29" y2="200.6" stroke="#222" stroke-width="1"/>
<text transform="translate(498.29,198.6)" text-anchor="middle" font-size="12.5">1.6</text>
<line x1="530.3" y1="203.6" x2="530.3" y2="200.6" stroke="#222" stroke-width="1"/>
<text transform="translate(530.3,198.6)" text-anchor="middle" font-size="12.5">1.8</text>
<line x1="242.2" y1="203.6" x2="239.2" y2="203.6" stroke="#222" stroke-width="1"/>
<text transform="translate(237.7,208.1)" text-anchor="end" font-size="12.5">0</text>
<line x1="242.2" y1="219.01" x2="239.2" y2="219.01" stroke="#222" stroke-width="1"/>
<text transform="translate(237.7,223.51)" text-anchor="end" font-size="12.5">1000</text>
<line x1="242.2" y1="234.42" x2="239.2" y2="234.42" stroke="#222" stroke-width="1"/>
<text transform="translate(237.7,238.92)" text-anchor="end" font-size="12.5">2000</text>
<line x1="242.2" y1="249.83" x2="239.2" y2="249.83" stroke="#222" stroke-width="1"/>
<text transform="translate(237.7,254.33)" text-anchor="end" font-size="12.5">3000</text>
<line x1="242.2" y1="265.24" x2="239.2" y2="265.24" stroke="#222" stroke-width="1"/>
<text transform="translate(237.7,269.74)" text-anchor="end" font-size="12.5">4000</text>
<line x1="242.2" y1="280.65" x2="239.2" y2="280.65" stroke="#222" stroke-width="1"/>
<text transform="translate(237.7,285.15)" text-anchor="end" font-size="12.5">5000</text>
<line x1="242.2" y1="296.06" x2="239.2" y2="296.06" stroke="#222" stroke-width="1"/>
<text transform="translate(237.7,300.56)" text-anchor="end" font-size="12.5">6000</text>
<line x1="242.2" y1="311.47" x2="239.2" y2="311.47" stroke="#222" stroke-width="1"/>
<text transform="translate(237.7,315.97)" text-anchor="end" font-size="12.5">7000</text>
<rect x="242.2" y="203.6" width="288.1" height="114.8" fill="none" stroke="#333" stroke-width="1.6"/>
<text x="385.4" y="185.3" text-anchor="middle" font-size="12.6"><tspan font-style="italic">x</tspan>/10<tspan font-size="7" dy="-3.6">4</tspan><tspan dy="3.6">m</tspan></text>
<line x1="65.25" y1="360.5" x2="65.25" y2="357.5" stroke="#222" stroke-width="1"/>
<text transform="translate(65.25,354.4)" text-anchor="middle" font-size="12.5">0</text>
<line x1="99.47" y1="360.5" x2="99.47" y2="357.5" stroke="#222" stroke-width="1"/>
<text transform="translate(99.47,354.4)" text-anchor="middle" font-size="12.5">0.2</text>
<line x1="133.68" y1="360.5" x2="133.68" y2="357.5" stroke="#222" stroke-width="1"/>
<text transform="translate(133.68,354.4)" text-anchor="middle" font-size="12.5">0.4</text>
<line x1="167.9" y1="360.5" x2="167.9" y2="357.5" stroke="#222" stroke-width="1"/>
<text transform="translate(167.9,354.4)" text-anchor="middle" font-size="12.5">0.6</text>
<line x1="202.12" y1="360.5" x2="202.12" y2="357.5" stroke="#222" stroke-width="1"/>
<text transform="translate(202.12,354.4)" text-anchor="middle" font-size="12.5">0.8</text>
<line x1="236.33" y1="360.5" x2="236.33" y2="357.5" stroke="#222" stroke-width="1"/>
<text transform="translate(236.33,354.4)" text-anchor="middle" font-size="12.5">1.0</text>
<line x1="270.55" y1="360.5" x2="270.55" y2="357.5" stroke="#222" stroke-width="1"/>
<text transform="translate(270.55,354.4)" text-anchor="middle" font-size="12.5">1.2</text>
<line x1="304.77" y1="360.5" x2="304.77" y2="357.5" stroke="#222" stroke-width="1"/>
<text transform="translate(304.77,354.4)" text-anchor="middle" font-size="12.5">1.4</text>
<line x1="338.98" y1="360.5" x2="338.98" y2="357.5" stroke="#222" stroke-width="1"/>
<text transform="translate(338.98,354.4)" text-anchor="middle" font-size="12.5">1.6</text>
<line x1="373.2" y1="360.5" x2="373.2" y2="357.5" stroke="#222" stroke-width="1"/>
<text transform="translate(373.2,354.4)" text-anchor="middle" font-size="12.5">1.8</text>
<line x1="65.25" y1="360.5" x2="62.25" y2="360.5" stroke="#222" stroke-width="1"/>
<text transform="translate(58.05,365)" text-anchor="end" font-size="12.5">0</text>
<line x1="65.25" y1="381.14" x2="62.25" y2="381.14" stroke="#222" stroke-width="1"/>
<text transform="translate(58.05,385.64)" text-anchor="end" font-size="12.5">1000</text>
<line x1="65.25" y1="401.79" x2="62.25" y2="401.79" stroke="#222" stroke-width="1"/>
<text transform="translate(58.05,406.29)" text-anchor="end" font-size="12.5">2000</text>
<line x1="65.25" y1="422.43" x2="62.25" y2="422.43" stroke="#222" stroke-width="1"/>
<text transform="translate(58.05,426.93)" text-anchor="end" font-size="12.5">3000</text>
<line x1="65.25" y1="443.08" x2="62.25" y2="443.08" stroke="#222" stroke-width="1"/>
<text transform="translate(58.05,447.58)" text-anchor="end" font-size="12.5">4000</text>
<line x1="65.25" y1="463.72" x2="62.25" y2="463.72" stroke="#222" stroke-width="1"/>
<text transform="translate(58.05,468.22)" text-anchor="end" font-size="12.5">5000</text>
<line x1="65.25" y1="484.37" x2="62.25" y2="484.37" stroke="#222" stroke-width="1"/>
<text transform="translate(58.05,488.87)" text-anchor="end" font-size="12.5">6000</text>
<line x1="65.25" y1="505.01" x2="62.25" y2="505.01" stroke="#222" stroke-width="1"/>
<text transform="translate(58.05,509.51)" text-anchor="end" font-size="12.5">7000</text>
<rect x="65.25" y="360.5" width="307.95" height="153.8" fill="none" stroke="#111" stroke-width="1.8"/>
<text x="221.1" y="339.8" text-anchor="middle" font-size="12.6"><tspan font-style="italic">x</tspan>/10<tspan font-size="7" dy="-3.6">4</tspan><tspan dy="3.6">m</tspan></text>
<line x1="423.8" y1="360.6" x2="423.8" y2="357.6" stroke="#222" stroke-width="1"/>
<text transform="translate(423.8,354.5)" text-anchor="middle" font-size="12.5">0</text>
<line x1="458.01" y1="360.6" x2="458.01" y2="357.6" stroke="#222" stroke-width="1"/>
<text transform="translate(458.01,354.5)" text-anchor="middle" font-size="12.5">0.2</text>
<line x1="492.22" y1="360.6" x2="492.22" y2="357.6" stroke="#222" stroke-width="1"/>
<text transform="translate(492.22,354.5)" text-anchor="middle" font-size="12.5">0.4</text>
<line x1="526.43" y1="360.6" x2="526.43" y2="357.6" stroke="#222" stroke-width="1"/>
<text transform="translate(526.43,354.5)" text-anchor="middle" font-size="12.5">0.6</text>
<line x1="560.64" y1="360.6" x2="560.64" y2="357.6" stroke="#222" stroke-width="1"/>
<text transform="translate(560.64,354.5)" text-anchor="middle" font-size="12.5">0.8</text>
<line x1="594.86" y1="360.6" x2="594.86" y2="357.6" stroke="#222" stroke-width="1"/>
<text transform="translate(594.86,354.5)" text-anchor="middle" font-size="12.5">1.0</text>
<line x1="629.07" y1="360.6" x2="629.07" y2="357.6" stroke="#222" stroke-width="1"/>
<text transform="translate(629.07,354.5)" text-anchor="middle" font-size="12.5">1.2</text>
<line x1="663.28" y1="360.6" x2="663.28" y2="357.6" stroke="#222" stroke-width="1"/>
<text transform="translate(663.28,354.5)" text-anchor="middle" font-size="12.5">1.4</text>
<line x1="697.49" y1="360.6" x2="697.49" y2="357.6" stroke="#222" stroke-width="1"/>
<text transform="translate(697.49,354.5)" text-anchor="middle" font-size="12.5">1.6</text>
<line x1="731.7" y1="360.6" x2="731.7" y2="357.6" stroke="#222" stroke-width="1"/>
<text transform="translate(731.7,354.5)" text-anchor="middle" font-size="12.5">1.8</text>
<line x1="423.8" y1="360.6" x2="420.8" y2="360.6" stroke="#222" stroke-width="1"/>
<text transform="translate(417.4,365.1)" text-anchor="end" font-size="12.5">0</text>
<line x1="423.8" y1="381.14" x2="420.8" y2="381.14" stroke="#222" stroke-width="1"/>
<text transform="translate(417.4,385.64)" text-anchor="end" font-size="12.5">1000</text>
<line x1="423.8" y1="401.67" x2="420.8" y2="401.67" stroke="#222" stroke-width="1"/>
<text transform="translate(417.4,406.17)" text-anchor="end" font-size="12.5">2000</text>
<line x1="423.8" y1="422.21" x2="420.8" y2="422.21" stroke="#222" stroke-width="1"/>
<text transform="translate(417.4,426.71)" text-anchor="end" font-size="12.5">3000</text>
<line x1="423.8" y1="442.75" x2="420.8" y2="442.75" stroke="#222" stroke-width="1"/>
<text transform="translate(417.4,447.25)" text-anchor="end" font-size="12.5">4000</text>
<line x1="423.8" y1="463.28" x2="420.8" y2="463.28" stroke="#222" stroke-width="1"/>
<text transform="translate(417.4,467.78)" text-anchor="end" font-size="12.5">5000</text>
<line x1="423.8" y1="483.82" x2="420.8" y2="483.82" stroke="#222" stroke-width="1"/>
<text transform="translate(417.4,488.32)" text-anchor="end" font-size="12.5">6000</text>
<line x1="423.8" y1="504.36" x2="420.8" y2="504.36" stroke="#222" stroke-width="1"/>
<text transform="translate(417.4,508.86)" text-anchor="end" font-size="12.5">7000</text>
<rect x="423.8" y="360.6" width="307.9" height="153" fill="none" stroke="#111" stroke-width="1.8"/>
<text x="580.2" y="339.8" text-anchor="middle" font-size="12.6"><tspan font-style="italic">x</tspan>/10<tspan font-size="7" dy="-3.6">4</tspan><tspan dy="3.6">m</tspan></text>
<text transform="translate(47.5,107) rotate(-90)" text-anchor="middle" font-size="12.6"><tspan font-style="italic">z</tspan>/m</text>
<text transform="translate(209.9,260.8) rotate(-90)" text-anchor="middle" font-size="12.6"><tspan font-style="italic">z</tspan>/m</text>
<text transform="translate(32,436.5) rotate(-90)" text-anchor="middle" font-size="12.6"><tspan font-style="italic">z</tspan>/m</text>
<text transform="translate(19.9,621.7) rotate(-90)" text-anchor="middle" font-size="12.6"><tspan font-style="italic">z</tspan>/m</text>
<line x1="64.5" y1="541" x2="64.5" y2="538" stroke="#222" stroke-width="1"/>
<text transform="translate(64.5,531.8)" text-anchor="middle" font-size="12.5">7.8</text>
<line x1="116.12" y1="541" x2="116.12" y2="538" stroke="#222" stroke-width="1"/>
<text transform="translate(116.12,531.8)" text-anchor="middle" font-size="12.5">8.8</text>
<line x1="167.73" y1="541" x2="167.73" y2="538" stroke="#222" stroke-width="1"/>
<text transform="translate(167.73,531.8)" text-anchor="middle" font-size="12.5">9.8</text>
<line x1="219.35" y1="541" x2="219.35" y2="538" stroke="#222" stroke-width="1"/>
<text transform="translate(219.35,531.8)" text-anchor="middle" font-size="12.5">10.8</text>
<line x1="270.97" y1="541" x2="270.97" y2="538" stroke="#222" stroke-width="1"/>
<text transform="translate(270.97,531.8)" text-anchor="middle" font-size="12.5">11.8</text>
<line x1="322.58" y1="541" x2="322.58" y2="538" stroke="#222" stroke-width="1"/>
<text transform="translate(322.58,531.8)" text-anchor="middle" font-size="12.5">12.8</text>
<line x1="374.2" y1="541" x2="374.2" y2="538" stroke="#222" stroke-width="1"/>
<text transform="translate(374.2,531.8)" text-anchor="middle" font-size="12.5">13.8</text>
<line x1="64.5" y1="541" x2="59.5" y2="541" stroke="#222" stroke-width="1"/>
<text transform="translate(55.3,545.5)" text-anchor="end" font-size="12.5">3000</text>
<line x1="64.5" y1="572.28" x2="59.5" y2="572.28" stroke="#222" stroke-width="1"/>
<text transform="translate(55.3,576.78)" text-anchor="end" font-size="12.5">3500</text>
<line x1="64.5" y1="603.56" x2="59.5" y2="603.56" stroke="#222" stroke-width="1"/>
<text transform="translate(55.3,608.06)" text-anchor="end" font-size="12.5">4000</text>
<line x1="64.5" y1="634.84" x2="59.5" y2="634.84" stroke="#222" stroke-width="1"/>
<text transform="translate(55.3,639.34)" text-anchor="end" font-size="12.5">4500</text>
<line x1="64.5" y1="666.12" x2="59.5" y2="666.12" stroke="#222" stroke-width="1"/>
<text transform="translate(55.3,670.62)" text-anchor="end" font-size="12.5">5000</text>
<line x1="64.5" y1="697.4" x2="59.5" y2="697.4" stroke="#222" stroke-width="1"/>
<text transform="translate(55.3,701.9)" text-anchor="end" font-size="12.5">5500</text>
<rect x="64.5" y="541" width="309.7" height="156.4" fill="none" stroke="#444" stroke-width="1.3"/>
<line x1="424.1" y1="540" x2="424.1" y2="537" stroke="#222" stroke-width="1"/>
<text transform="translate(424.1,530.8)" text-anchor="middle" font-size="12.5">7.8</text>
<line x1="475.75" y1="540" x2="475.75" y2="537" stroke="#222" stroke-width="1"/>
<text transform="translate(475.75,530.8)" text-anchor="middle" font-size="12.5">8.8</text>
<line x1="527.4" y1="540" x2="527.4" y2="537" stroke="#222" stroke-width="1"/>
<text transform="translate(527.4,530.8)" text-anchor="middle" font-size="12.5">9.8</text>
<line x1="579.05" y1="540" x2="579.05" y2="537" stroke="#222" stroke-width="1"/>
<text transform="translate(579.05,530.8)" text-anchor="middle" font-size="12.5">10.8</text>
<line x1="630.7" y1="540" x2="630.7" y2="537" stroke="#222" stroke-width="1"/>
<text transform="translate(630.7,530.8)" text-anchor="middle" font-size="12.5">11.8</text>
<line x1="682.35" y1="540" x2="682.35" y2="537" stroke="#222" stroke-width="1"/>
<text transform="translate(682.35,530.8)" text-anchor="middle" font-size="12.5">12.8</text>
<line x1="734" y1="540" x2="734" y2="537" stroke="#222" stroke-width="1"/>
<text transform="translate(734,530.8)" text-anchor="middle" font-size="12.5">13.8</text>
<line x1="424.1" y1="540" x2="419.1" y2="540" stroke="#222" stroke-width="1"/>
<text transform="translate(414.9,544.5)" text-anchor="end" font-size="12.5">3000</text>
<line x1="424.1" y1="571.28" x2="419.1" y2="571.28" stroke="#222" stroke-width="1"/>
<text transform="translate(414.9,575.78)" text-anchor="end" font-size="12.5">3500</text>
<line x1="424.1" y1="602.56" x2="419.1" y2="602.56" stroke="#222" stroke-width="1"/>
<text transform="translate(414.9,607.06)" text-anchor="end" font-size="12.5">4000</text>
<line x1="424.1" y1="633.84" x2="419.1" y2="633.84" stroke="#222" stroke-width="1"/>
<text transform="translate(414.9,638.34)" text-anchor="end" font-size="12.5">4500</text>
<line x1="424.1" y1="665.12" x2="419.1" y2="665.12" stroke="#222" stroke-width="1"/>
<text transform="translate(414.9,669.62)" text-anchor="end" font-size="12.5">5000</text>
<line x1="424.1" y1="696.4" x2="419.1" y2="696.4" stroke="#222" stroke-width="1"/>
<text transform="translate(414.9,700.9)" text-anchor="end" font-size="12.5">5500</text>
<rect x="424.1" y="540" width="309.9" height="156.4" fill="none" stroke="#444" stroke-width="1.3"/>
<rect x="373" y="70" width="4.3" height="58.4" fill="url(#cbg)" stroke="#999" stroke-width="0.5"/>
<line x1="377.3" y1="82.3" x2="378.8" y2="82.3" stroke="#444" stroke-width="0.8"/>
<text transform="translate(380.8,85.5)" text-anchor="start" font-size="12.5">4000</text>
<line x1="377.3" y1="100.2" x2="378.8" y2="100.2" stroke="#444" stroke-width="0.8"/>
<text transform="translate(380.8,103.4)" text-anchor="start" font-size="12.5">3000</text>
<line x1="377.3" y1="118" x2="378.8" y2="118" stroke="#444" stroke-width="0.8"/>
<text transform="translate(380.8,121.2)" text-anchor="start" font-size="12.5">2000</text>
<rect x="742" y="75.4" width="3.7" height="59" fill="url(#cbg)" stroke="#999" stroke-width="0.5"/>
<line x1="745.7" y1="93.5" x2="747.2" y2="93.5" stroke="#444" stroke-width="0.8"/>
<text transform="translate(749.2,96.7)" text-anchor="start" font-size="12.5">0.2</text>
<line x1="745.7" y1="113.5" x2="747.2" y2="113.5" stroke="#444" stroke-width="0.8"/>
<text transform="translate(749.2,116.7)" text-anchor="start" font-size="12.5">0.1</text>
<line x1="745.7" y1="131.6" x2="747.2" y2="131.6" stroke="#444" stroke-width="0.8"/>
<text transform="translate(749.2,134.8)" text-anchor="start" font-size="12.5">0</text>
<rect x="535.9" y="229" width="3.9" height="58.7" fill="url(#cbg)" stroke="#999" stroke-width="0.5"/>
<line x1="539.8" y1="235.9" x2="541.3" y2="235.9" stroke="#444" stroke-width="0.8"/>
<text transform="translate(543.3,239.1)" text-anchor="start" font-size="12.5">0.15</text>
<line x1="539.8" y1="252.5" x2="541.3" y2="252.5" stroke="#444" stroke-width="0.8"/>
<text transform="translate(543.3,255.7)" text-anchor="start" font-size="12.5">0.10</text>
<line x1="539.8" y1="269.1" x2="541.3" y2="269.1" stroke="#444" stroke-width="0.8"/>
<text transform="translate(543.3,272.3)" text-anchor="start" font-size="12.5">0.05</text>
<line x1="539.8" y1="285.7" x2="541.3" y2="285.7" stroke="#444" stroke-width="0.8"/>
<text transform="translate(543.3,288.9)" text-anchor="start" font-size="12.5">0</text>
<text transform="translate(352.9,157.5)" text-anchor="middle" font-size="12.5">(a)</text>
<text transform="translate(722.2,157)" text-anchor="middle" font-size="12.5">(b)</text>
<text transform="translate(518,310)" text-anchor="middle" font-size="12.5">(c)</text>
<text transform="translate(357.5,504)" text-anchor="middle" font-size="12.5">(d)</text>
<text transform="translate(716.5,504)" text-anchor="middle" font-size="12.5">(e)</text>
<text transform="translate(359.4,688)" text-anchor="middle" font-size="12.5">(f)</text>
<text transform="translate(716.3,687)" text-anchor="middle" font-size="12.5">(g)</text>
</svg></body></html>
